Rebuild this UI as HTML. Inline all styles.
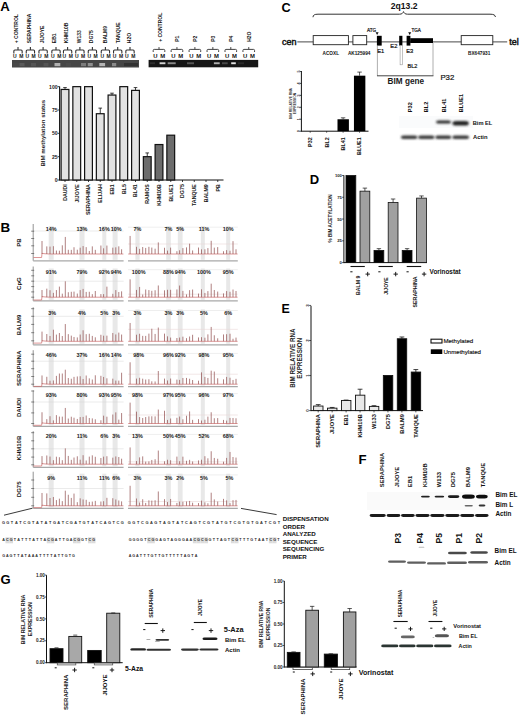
<!DOCTYPE html>
<html><head><meta charset="utf-8"><style>
html,body{margin:0;padding:0;background:#fff;}
svg{display:block;font-family:"Liberation Sans",sans-serif;}
</style></head><body>
<svg width="520" height="715" viewBox="0 0 520 715">
<rect width="520" height="715" fill="#fff"/>
<text x="0.2" y="10.6" font-size="13.2" font-weight="bold" text-anchor="start" fill="#000" >A</text>
<text x="281.5" y="12.1" font-size="12.7" font-weight="bold" text-anchor="start" fill="#000" >C</text>
<text x="0.6" y="232.3" font-size="13.4" font-weight="bold" text-anchor="start" fill="#000" >B</text>
<text x="309.8" y="183.8" font-size="13" font-weight="bold" text-anchor="start" fill="#000" >D</text>
<text x="281.6" y="313.4" font-size="12.4" font-weight="bold" text-anchor="start" fill="#000" >E</text>
<text x="358.6" y="463.6" font-size="13.2" font-weight="bold" text-anchor="start" fill="#000" >F</text>
<text x="0.4" y="583.9" font-size="13" font-weight="bold" text-anchor="start" fill="#000" >G</text>
<text transform="translate(17.9,43.2) rotate(-90)" font-size="5" font-weight="bold" text-anchor="start" fill="#111" >+ CONTROL</text>
<path d="M13.85,53.5 L13.85,51 Q13.85,50 14.85,50 L21.15,50 Q22.15,50 22.15,51 L22.15,53.5" stroke="#333" stroke-width="1.1" fill="none" />
<line x1="18" y1="47.1" x2="18" y2="50" stroke="#333" stroke-width="1.1" />
<text x="14.8" y="58" font-size="5" font-weight="bold" text-anchor="middle" fill="#111" >U</text>
<text x="21.3" y="58" font-size="5" font-weight="bold" text-anchor="middle" fill="#111" >M</text>
<text transform="translate(30.8,43.2) rotate(-90)" font-size="5" font-weight="bold" text-anchor="start" fill="#111" >SERAPHINA</text>
<path d="M26.25,53.5 L26.25,51 Q26.25,50 27.25,50 L33.55,50 Q34.55,50 34.55,51 L34.55,53.5" stroke="#333" stroke-width="1.1" fill="none" />
<line x1="30.4" y1="47.1" x2="30.4" y2="50" stroke="#333" stroke-width="1.1" />
<text x="27.2" y="58" font-size="5" font-weight="bold" text-anchor="middle" fill="#111" >U</text>
<text x="33.7" y="58" font-size="5" font-weight="bold" text-anchor="middle" fill="#111" >M</text>
<text transform="translate(43.6,43.2) rotate(-90)" font-size="5" font-weight="bold" text-anchor="start" fill="#111" >JIJOYE</text>
<path d="M38.95,53.5 L38.95,51 Q38.95,50 39.95,50 L46.25,50 Q47.25,50 47.25,51 L47.25,53.5" stroke="#333" stroke-width="1.1" fill="none" />
<line x1="43.1" y1="47.1" x2="43.1" y2="50" stroke="#333" stroke-width="1.1" />
<text x="39.9" y="58" font-size="5" font-weight="bold" text-anchor="middle" fill="#111" >U</text>
<text x="46.4" y="58" font-size="5" font-weight="bold" text-anchor="middle" fill="#111" >M</text>
<text transform="translate(56.3,43.2) rotate(-90)" font-size="5" font-weight="bold" text-anchor="start" fill="#111" >EB1</text>
<path d="M51.85,53.5 L51.85,51 Q51.85,50 52.85,50 L59.15,50 Q60.15,50 60.15,51 L60.15,53.5" stroke="#333" stroke-width="1.1" fill="none" />
<line x1="56" y1="47.1" x2="56" y2="50" stroke="#333" stroke-width="1.1" />
<text x="52.8" y="58" font-size="5" font-weight="bold" text-anchor="middle" fill="#111" >U</text>
<text x="59.3" y="58" font-size="5" font-weight="bold" text-anchor="middle" fill="#111" >M</text>
<text transform="translate(68.3,43.2) rotate(-90)" font-size="5" font-weight="bold" text-anchor="start" fill="#111" >KHM10B</text>
<path d="M63.45,53.5 L63.45,51 Q63.45,50 64.45,50 L70.75,50 Q71.75,50 71.75,51 L71.75,53.5" stroke="#333" stroke-width="1.1" fill="none" />
<line x1="67.6" y1="47.1" x2="67.6" y2="50" stroke="#333" stroke-width="1.1" />
<text x="64.4" y="58" font-size="5" font-weight="bold" text-anchor="middle" fill="#111" >U</text>
<text x="70.9" y="58" font-size="5" font-weight="bold" text-anchor="middle" fill="#111" >M</text>
<text transform="translate(81,43.2) rotate(-90)" font-size="5" font-weight="bold" text-anchor="start" fill="#111" >W133</text>
<path d="M75.75,53.5 L75.75,51 Q75.75,50 76.75,50 L83.05,50 Q84.05,50 84.05,51 L84.05,53.5" stroke="#333" stroke-width="1.1" fill="none" />
<line x1="79.9" y1="47.1" x2="79.9" y2="50" stroke="#333" stroke-width="1.1" />
<text x="76.7" y="58" font-size="5" font-weight="bold" text-anchor="middle" fill="#111" >U</text>
<text x="83.2" y="58" font-size="5" font-weight="bold" text-anchor="middle" fill="#111" >M</text>
<text transform="translate(93.3,43.2) rotate(-90)" font-size="5" font-weight="bold" text-anchor="start" fill="#111" >DG75</text>
<path d="M88.25,53.5 L88.25,51 Q88.25,50 89.25,50 L95.55,50 Q96.55,50 96.55,51 L96.55,53.5" stroke="#333" stroke-width="1.1" fill="none" />
<line x1="92.4" y1="47.1" x2="92.4" y2="50" stroke="#333" stroke-width="1.1" />
<text x="89.2" y="58" font-size="5" font-weight="bold" text-anchor="middle" fill="#111" >U</text>
<text x="95.7" y="58" font-size="5" font-weight="bold" text-anchor="middle" fill="#111" >M</text>
<text transform="translate(107.2,43.2) rotate(-90)" font-size="5" font-weight="bold" text-anchor="start" fill="#111" >BALM9</text>
<path d="M101.25,53.5 L101.25,51 Q101.25,50 102.25,50 L108.55,50 Q109.55,50 109.55,51 L109.55,53.5" stroke="#333" stroke-width="1.1" fill="none" />
<line x1="105.4" y1="47.1" x2="105.4" y2="50" stroke="#333" stroke-width="1.1" />
<text x="102.2" y="58" font-size="5" font-weight="bold" text-anchor="middle" fill="#111" >U</text>
<text x="108.7" y="58" font-size="5" font-weight="bold" text-anchor="middle" fill="#111" >M</text>
<text transform="translate(120.3,43.2) rotate(-90)" font-size="5" font-weight="bold" text-anchor="start" fill="#111" >TANQUE</text>
<path d="M113.55,53.5 L113.55,51 Q113.55,50 114.55,50 L120.85,50 Q121.85,50 121.85,51 L121.85,53.5" stroke="#333" stroke-width="1.1" fill="none" />
<line x1="117.7" y1="47.1" x2="117.7" y2="50" stroke="#333" stroke-width="1.1" />
<text x="114.5" y="58" font-size="5" font-weight="bold" text-anchor="middle" fill="#111" >U</text>
<text x="121" y="58" font-size="5" font-weight="bold" text-anchor="middle" fill="#111" >M</text>
<text transform="translate(131,43.2) rotate(-90)" font-size="5" font-weight="bold" text-anchor="start" fill="#111" >H2O</text>
<path d="M125.85,53.5 L125.85,51 Q125.85,50 126.85,50 L133.15,50 Q134.15,50 134.15,51 L134.15,53.5" stroke="#333" stroke-width="1.1" fill="none" />
<line x1="130" y1="47.1" x2="130" y2="50" stroke="#333" stroke-width="1.1" />
<text x="126.8" y="58" font-size="5" font-weight="bold" text-anchor="middle" fill="#111" >U</text>
<text x="133.3" y="58" font-size="5" font-weight="bold" text-anchor="middle" fill="#111" >M</text>
<text transform="translate(161.8,41.8) rotate(-90)" font-size="5" font-weight="bold" text-anchor="start" fill="#111" >+ CONTROL</text>
<path d="M153.2,52 L153.2,50.4 Q153.2,49.4 154.2,49.4 L163.8,49.4 Q164.8,49.4 164.8,50.4 L164.8,52" stroke="#444" stroke-width="1" fill="none" />
<line x1="159" y1="47.1" x2="159" y2="49.4" stroke="#444" stroke-width="1" />
<text x="155.4" y="58" font-size="5.9" font-weight="bold" text-anchor="middle" fill="#111" >U</text>
<text x="162.7" y="58" font-size="5.9" font-weight="bold" text-anchor="middle" fill="#111" >M</text>
<text transform="translate(179.05,41.8) rotate(-90)" font-size="5" font-weight="bold" text-anchor="start" fill="#111" >P1</text>
<path d="M171.15,52 L171.15,50.4 Q171.15,49.4 172.15,49.4 L181.75,49.4 Q182.75,49.4 182.75,50.4 L182.75,52" stroke="#444" stroke-width="1" fill="none" />
<line x1="176.95" y1="47.1" x2="176.95" y2="49.4" stroke="#444" stroke-width="1" />
<text x="173.35" y="58" font-size="5.9" font-weight="bold" text-anchor="middle" fill="#111" >U</text>
<text x="180.65" y="58" font-size="5.9" font-weight="bold" text-anchor="middle" fill="#111" >M</text>
<text transform="translate(197,41.8) rotate(-90)" font-size="5" font-weight="bold" text-anchor="start" fill="#111" >P2</text>
<path d="M189.1,52 L189.1,50.4 Q189.1,49.4 190.1,49.4 L199.7,49.4 Q200.7,49.4 200.7,50.4 L200.7,52" stroke="#444" stroke-width="1" fill="none" />
<line x1="194.9" y1="47.1" x2="194.9" y2="49.4" stroke="#444" stroke-width="1" />
<text x="191.3" y="58" font-size="5.9" font-weight="bold" text-anchor="middle" fill="#111" >U</text>
<text x="198.6" y="58" font-size="5.9" font-weight="bold" text-anchor="middle" fill="#111" >M</text>
<text transform="translate(214.95,41.8) rotate(-90)" font-size="5" font-weight="bold" text-anchor="start" fill="#111" >P3</text>
<path d="M207.05,52 L207.05,50.4 Q207.05,49.4 208.05,49.4 L217.65,49.4 Q218.65,49.4 218.65,50.4 L218.65,52" stroke="#444" stroke-width="1" fill="none" />
<line x1="212.85" y1="47.1" x2="212.85" y2="49.4" stroke="#444" stroke-width="1" />
<text x="209.25" y="58" font-size="5.9" font-weight="bold" text-anchor="middle" fill="#111" >U</text>
<text x="216.55" y="58" font-size="5.9" font-weight="bold" text-anchor="middle" fill="#111" >M</text>
<text transform="translate(232.9,41.8) rotate(-90)" font-size="5" font-weight="bold" text-anchor="start" fill="#111" >P4</text>
<path d="M225,52 L225,50.4 Q225,49.4 226,49.4 L235.6,49.4 Q236.6,49.4 236.6,50.4 L236.6,52" stroke="#444" stroke-width="1" fill="none" />
<line x1="230.8" y1="47.1" x2="230.8" y2="49.4" stroke="#444" stroke-width="1" />
<text x="227.2" y="58" font-size="5.9" font-weight="bold" text-anchor="middle" fill="#111" >U</text>
<text x="234.5" y="58" font-size="5.9" font-weight="bold" text-anchor="middle" fill="#111" >M</text>
<text transform="translate(250.85,41.8) rotate(-90)" font-size="5" font-weight="bold" text-anchor="start" fill="#111" >H2O</text>
<path d="M242.95,52 L242.95,50.4 Q242.95,49.4 243.95,49.4 L253.55,49.4 Q254.55,49.4 254.55,50.4 L254.55,52" stroke="#444" stroke-width="1" fill="none" />
<line x1="248.75" y1="47.1" x2="248.75" y2="49.4" stroke="#444" stroke-width="1" />
<text x="245.15" y="58" font-size="5.9" font-weight="bold" text-anchor="middle" fill="#111" >U</text>
<text x="252.45" y="58" font-size="5.9" font-weight="bold" text-anchor="middle" fill="#111" >M</text>
<defs><filter id="bl" x="-20%" y="-50%" width="140%" height="200%"><feGaussianBlur stdDeviation="0.7"/></filter><filter id="bl2" x="-20%" y="-80%" width="140%" height="260%"><feGaussianBlur stdDeviation="0.45"/></filter><filter id="bl3" x="-20%" y="-80%" width="140%" height="260%"><feGaussianBlur stdDeviation="1.0"/></filter></defs>
<rect x="12" y="60" width="127" height="7.5" fill="#464646" stroke="none" stroke-width="1" />
<g filter="url(#bl)">
<rect x="13" y="63" width="6" height="3.2" fill="#4a4a4a" stroke="none" stroke-width="1" />
<rect x="19.5" y="63" width="5" height="3.2" fill="#5a5a5a" stroke="none" stroke-width="1" />
<rect x="31" y="63" width="5" height="3.2" fill="#545454" stroke="none" stroke-width="1" />
<rect x="43.5" y="63" width="5" height="3.2" fill="#555" stroke="none" stroke-width="1" />
<rect x="54.5" y="63" width="5.8" height="3.2" fill="#b0b0b0" stroke="none" stroke-width="1" />
<rect x="66" y="63" width="5" height="3.2" fill="#4c4c4c" stroke="none" stroke-width="1" />
<rect x="81" y="63" width="5" height="3.2" fill="#7c7c7c" stroke="none" stroke-width="1" />
<rect x="87.8" y="63" width="5" height="3.2" fill="#909090" stroke="none" stroke-width="1" />
<rect x="99.3" y="63" width="5.8" height="3.2" fill="#b4b4b4" stroke="none" stroke-width="1" />
<rect x="112" y="63" width="4.2" height="3.2" fill="#8a8a8a" stroke="none" stroke-width="1" />
<rect x="124" y="63" width="14" height="3.2" fill="#333" stroke="none" stroke-width="1" />
</g>
<rect x="148.6" y="59.9" width="109.6" height="7.4" fill="#161616" stroke="none" stroke-width="1" />
<g filter="url(#bl2)">
<rect x="150" y="62.3" width="5" height="1.9" fill="#2e2e2e" stroke="none" stroke-width="1" />
<rect x="159.6" y="62.3" width="5.8" height="1.9" fill="#d4d4d4" stroke="none" stroke-width="1" />
<rect x="167.7" y="62.3" width="8" height="1.9" fill="#8a8a8a" stroke="none" stroke-width="1" />
<rect x="187" y="62.3" width="7" height="1.9" fill="#555" stroke="none" stroke-width="1" />
<rect x="213.9" y="62.3" width="5.8" height="1.9" fill="#b0b0b0" stroke="none" stroke-width="1" />
<rect x="222" y="62.3" width="5.7" height="1.9" fill="#4a4a4a" stroke="none" stroke-width="1" />
<rect x="231.2" y="62.3" width="4.6" height="1.9" fill="#e4e4e4" stroke="none" stroke-width="1" />
<rect x="238" y="62.3" width="6" height="1.9" fill="#2a2a2a" stroke="none" stroke-width="1" />
</g>
<line x1="59.6" y1="86.6" x2="59.6" y2="180.5" stroke="#111" stroke-width="1.1" />
<line x1="59.6" y1="180" x2="223.5" y2="180" stroke="#111" stroke-width="1.1" />
<line x1="57.6" y1="180" x2="59.6" y2="180" stroke="#111" stroke-width="0.8" />
<text x="57.6" y="181.9" font-size="5.1" font-weight="bold" text-anchor="end" fill="#1a1a1a" >0</text>
<line x1="57.6" y1="156.66" x2="59.6" y2="156.66" stroke="#111" stroke-width="0.8" />
<text x="57.6" y="158.56" font-size="5.1" font-weight="bold" text-anchor="end" fill="#1a1a1a" >25</text>
<line x1="57.6" y1="133.32" x2="59.6" y2="133.32" stroke="#111" stroke-width="0.8" />
<text x="57.6" y="135.22" font-size="5.1" font-weight="bold" text-anchor="end" fill="#1a1a1a" >50</text>
<line x1="57.6" y1="109.99" x2="59.6" y2="109.99" stroke="#111" stroke-width="0.8" />
<text x="57.6" y="111.89" font-size="5.1" font-weight="bold" text-anchor="end" fill="#1a1a1a" >75</text>
<line x1="57.6" y1="86.65" x2="59.6" y2="86.65" stroke="#111" stroke-width="0.8" />
<text x="57.6" y="88.55" font-size="5.1" font-weight="bold" text-anchor="end" fill="#1a1a1a" >100</text>
<text transform="translate(45.4,133.2) rotate(-90)" font-size="6.1" font-weight="bold" text-anchor="middle" fill="#222" >BIM methylation status</text>
<rect x="61.1" y="89.45" width="7.8" height="90.55" fill="#e2e2e2" stroke="#111" stroke-width="1.2" />
<line x1="65" y1="89.45" x2="65" y2="87.58" stroke="#111" stroke-width="0.8" />
<line x1="63.2" y1="87.58" x2="66.8" y2="87.58" stroke="#111" stroke-width="0.8" />
<line x1="65" y1="180" x2="65" y2="182" stroke="#111" stroke-width="0.8" />
<text transform="translate(66.89,184.2) rotate(-90)" font-size="5.25" font-weight="bold" text-anchor="end" fill="#111" >DAUDI</text>
<rect x="72.85" y="86.65" width="7.8" height="93.35" fill="#e2e2e2" stroke="#111" stroke-width="1.2" />
<line x1="76.75" y1="180" x2="76.75" y2="182" stroke="#111" stroke-width="0.8" />
<text transform="translate(78.64,184.2) rotate(-90)" font-size="5.25" font-weight="bold" text-anchor="end" fill="#111" >JIJOYE</text>
<rect x="84.6" y="86.65" width="7.8" height="93.35" fill="#e2e2e2" stroke="#111" stroke-width="1.2" />
<line x1="88.5" y1="180" x2="88.5" y2="182" stroke="#111" stroke-width="0.8" />
<text transform="translate(90.39,184.2) rotate(-90)" font-size="5.25" font-weight="bold" text-anchor="end" fill="#111" >SERAPHINA</text>
<rect x="96.35" y="113.72" width="7.8" height="66.28" fill="#e2e2e2" stroke="#111" stroke-width="1.2" />
<line x1="100.25" y1="113.72" x2="100.25" y2="108.12" stroke="#111" stroke-width="0.8" />
<line x1="98.45" y1="108.12" x2="102.05" y2="108.12" stroke="#111" stroke-width="0.8" />
<line x1="100.25" y1="180" x2="100.25" y2="182" stroke="#111" stroke-width="0.8" />
<text transform="translate(102.14,184.2) rotate(-90)" font-size="5.25" font-weight="bold" text-anchor="end" fill="#111" >ELIJAH</text>
<rect x="108.1" y="95.05" width="7.8" height="84.95" fill="#e2e2e2" stroke="#111" stroke-width="1.2" />
<line x1="112" y1="95.05" x2="112" y2="93.18" stroke="#111" stroke-width="0.8" />
<line x1="110.2" y1="93.18" x2="113.8" y2="93.18" stroke="#111" stroke-width="0.8" />
<line x1="112" y1="180" x2="112" y2="182" stroke="#111" stroke-width="0.8" />
<text transform="translate(113.89,184.2) rotate(-90)" font-size="5.25" font-weight="bold" text-anchor="end" fill="#111" >EB1</text>
<rect x="119.85" y="86.65" width="7.8" height="93.35" fill="#e2e2e2" stroke="#111" stroke-width="1.2" />
<line x1="123.75" y1="180" x2="123.75" y2="182" stroke="#111" stroke-width="0.8" />
<text transform="translate(125.64,184.2) rotate(-90)" font-size="5.25" font-weight="bold" text-anchor="end" fill="#111" >BL5</text>
<rect x="131.6" y="90.38" width="7.8" height="89.62" fill="#e2e2e2" stroke="#111" stroke-width="1.2" />
<line x1="135.5" y1="90.38" x2="135.5" y2="87.58" stroke="#111" stroke-width="0.8" />
<line x1="133.7" y1="87.58" x2="137.3" y2="87.58" stroke="#111" stroke-width="0.8" />
<line x1="135.5" y1="180" x2="135.5" y2="182" stroke="#111" stroke-width="0.8" />
<text transform="translate(137.39,184.2) rotate(-90)" font-size="5.25" font-weight="bold" text-anchor="end" fill="#111" >BL41</text>
<rect x="143.35" y="156.66" width="7.8" height="23.34" fill="#6c6c6c" stroke="#111" stroke-width="1.2" />
<line x1="147.25" y1="156.66" x2="147.25" y2="152.93" stroke="#111" stroke-width="0.8" />
<line x1="145.45" y1="152.93" x2="149.05" y2="152.93" stroke="#111" stroke-width="0.8" />
<line x1="147.25" y1="180" x2="147.25" y2="182" stroke="#111" stroke-width="0.8" />
<text transform="translate(149.14,184.2) rotate(-90)" font-size="5.25" font-weight="bold" text-anchor="end" fill="#111" >RAMOS</text>
<rect x="155.1" y="144.53" width="7.8" height="35.47" fill="#6c6c6c" stroke="#111" stroke-width="1.2" />
<line x1="159" y1="180" x2="159" y2="182" stroke="#111" stroke-width="0.8" />
<text transform="translate(160.89,184.2) rotate(-90)" font-size="5.25" font-weight="bold" text-anchor="end" fill="#111" >KHM10B</text>
<rect x="166.85" y="135.19" width="7.8" height="44.81" fill="#6c6c6c" stroke="#111" stroke-width="1.2" />
<line x1="170.75" y1="180" x2="170.75" y2="182" stroke="#111" stroke-width="0.8" />
<text transform="translate(172.64,184.2) rotate(-90)" font-size="5.25" font-weight="bold" text-anchor="end" fill="#111" >BLUE1</text>
<line x1="182.5" y1="180" x2="182.5" y2="182" stroke="#111" stroke-width="0.8" />
<text transform="translate(184.39,184.2) rotate(-90)" font-size="5.25" font-weight="bold" text-anchor="end" fill="#111" >DG75</text>
<line x1="194.25" y1="180" x2="194.25" y2="182" stroke="#111" stroke-width="0.8" />
<text transform="translate(196.14,184.2) rotate(-90)" font-size="5.25" font-weight="bold" text-anchor="end" fill="#111" >TANQUE</text>
<line x1="206" y1="180" x2="206" y2="182" stroke="#111" stroke-width="0.8" />
<text transform="translate(207.89,184.2) rotate(-90)" font-size="5.25" font-weight="bold" text-anchor="end" fill="#111" >BALM9</text>
<line x1="217.75" y1="180" x2="217.75" y2="182" stroke="#111" stroke-width="0.8" />
<text transform="translate(219.64,184.2) rotate(-90)" font-size="5.25" font-weight="bold" text-anchor="end" fill="#111" >PB</text>
<g>
<rect x="48.7" y="226" width="5" height="33.8" fill="#e8e8e8" stroke="none" stroke-width="1" />
<rect x="79.5" y="226" width="5" height="33.8" fill="#e8e8e8" stroke="none" stroke-width="1" />
<rect x="102.3" y="226" width="4" height="33.8" fill="#e8e8e8" stroke="none" stroke-width="1" />
<rect x="112.6" y="226" width="5" height="33.8" fill="#e8e8e8" stroke="none" stroke-width="1" />
<rect x="135.4" y="226" width="4.2" height="33.8" fill="#e8e8e8" stroke="none" stroke-width="1" />
<rect x="166.2" y="226" width="4.6" height="33.8" fill="#e8e8e8" stroke="none" stroke-width="1" />
<rect x="177.8" y="226" width="4.8" height="33.8" fill="#e8e8e8" stroke="none" stroke-width="1" />
<rect x="200.8" y="226" width="4" height="33.8" fill="#e8e8e8" stroke="none" stroke-width="1" />
<rect x="226.2" y="226" width="4" height="33.8" fill="#e8e8e8" stroke="none" stroke-width="1" />
<line x1="33" y1="231" x2="123.6" y2="231" stroke="#d6d6d6" stroke-width="0.5" />
<line x1="128" y1="227.2" x2="237.8" y2="227.2" stroke="#dddddd" stroke-width="0.5" />
<line x1="128" y1="244" x2="237.8" y2="244" stroke="#ead6d6" stroke-width="0.6" />
<line x1="33.2" y1="224" x2="33.2" y2="260.8" stroke="#777" stroke-width="0.8" />
<line x1="31.2" y1="231.2" x2="34.2" y2="231.2" stroke="#555" stroke-width="0.7" />
<line x1="31.2" y1="238.5" x2="34.2" y2="238.5" stroke="#555" stroke-width="0.7" />
<line x1="31.2" y1="245.8" x2="34.2" y2="245.8" stroke="#555" stroke-width="0.7" />
<line x1="31.2" y1="253.5" x2="34.2" y2="253.5" stroke="#555" stroke-width="0.7" />
<line x1="33.2" y1="260.8" x2="123.6" y2="260.8" stroke="#a8a8a8" stroke-width="1.2" />
<line x1="128" y1="260.8" x2="237.8" y2="260.8" stroke="#a8a8a8" stroke-width="1.2" />
<path d="M33.4,257.5 L41.6,257.5 L42.0,253.4 Q44,253.8 50,254 L123.4,254" stroke="#cf6a6a" stroke-width="0.7" fill="none" />
<path d="M128.2,254 L237.6,254" stroke="#cf6a6a" stroke-width="0.7" fill="none" />
<path d="M42,254 L42,241 M46.8,254 L46.8,246.38 M50,254 L50,246.61 M53.4,254 L53.4,246.2 M56.4,254 L56.4,250.52 M59.4,254 L59.4,250.71 M62.3,254 L62.3,245.32 M65.3,254 L65.3,236.93 M68.3,254 L68.3,249.78 M71.3,254 L71.3,249.87 M74,254 L74,247.24 M77.3,254 L77.3,249.73 M80.2,254 L80.2,247.67 M83.1,254 L83.1,246.09 M86.2,254 L86.2,247.11 M89.3,254 L89.3,250.97 M92.3,254 L92.3,246.36 M95.3,254 L95.3,249.84 M100.9,254 L100.9,245.52 M103.6,254 L103.6,248.31 M106.9,254 L106.9,245.59 M112.8,254 L112.8,247.68 M115.8,254 L115.8,247.35 M118.8,254 L118.8,246.35 M121.6,254 L121.6,249.26 M130.1,254 L130.1,235.94 M136.5,254 L136.5,246.8 M139.6,254 L139.6,248.84 M142.7,254 L142.7,247.02 M145.7,254 L145.7,247.92 M148.9,254 L148.9,246.84 M151.8,254 L151.8,247.57 M155.1,254 L155.1,248.68 M158.3,254 L158.3,242.41 M164.5,254 L164.5,247.78 M167.5,254 L167.5,250.59 M170.6,254 L170.6,247.62 M176.9,254 L176.9,251.22 M179.6,254 L179.6,250.29 M182.9,254 L182.9,248.08 M186.5,254 L186.5,247.38 M189.6,254 L189.6,243.66 M192.6,254 L192.6,250.44 M198.5,254 L198.5,247.54 M201.5,254 L201.5,249.36 M204.9,254 L204.9,249.3 M207.9,254 L207.9,248.1 M211.2,254 L211.2,240.82 M214.3,254 L214.3,247.65 M217.7,254 L217.7,247.11 M223.5,254 L223.5,251.24 M226.6,254 L226.6,250.13 M230,254 L230,250.73 M233,254 L233,241.16 M236,254 L236,249.29 " stroke="#955555" stroke-width="0.75" fill="none" />
<text x="51.2" y="231.45" font-size="5.45" font-weight="bold" text-anchor="middle" fill="#1a1a1a" >14%</text>
<text x="82" y="231.45" font-size="5.45" font-weight="bold" text-anchor="middle" fill="#1a1a1a" >13%</text>
<text x="104.3" y="231.45" font-size="5.45" font-weight="bold" text-anchor="middle" fill="#1a1a1a" >16%</text>
<text x="116.1" y="231.45" font-size="5.45" font-weight="bold" text-anchor="middle" fill="#1a1a1a" >10%</text>
<text x="137.5" y="231.45" font-size="5.45" font-weight="bold" text-anchor="middle" fill="#1a1a1a" >7%</text>
<text x="168.5" y="231.45" font-size="5.45" font-weight="bold" text-anchor="middle" fill="#1a1a1a" >7%</text>
<text x="180.2" y="231.45" font-size="5.45" font-weight="bold" text-anchor="middle" fill="#1a1a1a" >5%</text>
<text x="204" y="231.45" font-size="5.45" font-weight="bold" text-anchor="middle" fill="#1a1a1a" >11%</text>
<text x="228.2" y="231.45" font-size="5.45" font-weight="bold" text-anchor="middle" fill="#1a1a1a" >10%</text>
<text transform="translate(20.76,242.5) rotate(-90)" font-size="6" font-weight="bold" text-anchor="middle" fill="#111" >PB</text>
<rect x="48.7" y="268.5" width="5" height="31.3" fill="#e8e8e8" stroke="none" stroke-width="1" />
<rect x="79.5" y="268.5" width="5" height="31.3" fill="#e8e8e8" stroke="none" stroke-width="1" />
<rect x="102.3" y="268.5" width="4" height="31.3" fill="#e8e8e8" stroke="none" stroke-width="1" />
<rect x="112.6" y="268.5" width="5" height="31.3" fill="#e8e8e8" stroke="none" stroke-width="1" />
<rect x="135.4" y="268.5" width="4.2" height="31.3" fill="#e8e8e8" stroke="none" stroke-width="1" />
<rect x="166.2" y="268.5" width="4.6" height="31.3" fill="#e8e8e8" stroke="none" stroke-width="1" />
<rect x="177.8" y="268.5" width="4.8" height="31.3" fill="#e8e8e8" stroke="none" stroke-width="1" />
<rect x="200.8" y="268.5" width="4" height="31.3" fill="#e8e8e8" stroke="none" stroke-width="1" />
<rect x="226.2" y="268.5" width="4" height="31.3" fill="#e8e8e8" stroke="none" stroke-width="1" />
<line x1="33" y1="281.2" x2="123.6" y2="281.2" stroke="#d6d6d6" stroke-width="0.5" />
<line x1="128" y1="269.7" x2="237.8" y2="269.7" stroke="#dddddd" stroke-width="0.5" />
<line x1="128" y1="294.2" x2="237.8" y2="294.2" stroke="#ead6d6" stroke-width="0.6" />
<line x1="33.2" y1="266.5" x2="33.2" y2="300.8" stroke="#777" stroke-width="0.8" />
<line x1="31.2" y1="270.3" x2="34.2" y2="270.3" stroke="#555" stroke-width="0.7" />
<line x1="31.2" y1="275.8" x2="34.2" y2="275.8" stroke="#555" stroke-width="0.7" />
<line x1="31.2" y1="281.2" x2="34.2" y2="281.2" stroke="#555" stroke-width="0.7" />
<line x1="31.2" y1="286.6" x2="34.2" y2="286.6" stroke="#555" stroke-width="0.7" />
<line x1="31.2" y1="291.9" x2="34.2" y2="291.9" stroke="#555" stroke-width="0.7" />
<line x1="31.2" y1="297.2" x2="34.2" y2="297.2" stroke="#555" stroke-width="0.7" />
<line x1="33.2" y1="300.8" x2="123.6" y2="300.8" stroke="#a8a8a8" stroke-width="1.2" />
<line x1="128" y1="300.8" x2="237.8" y2="300.8" stroke="#a8a8a8" stroke-width="1.2" />
<path d="M33.4,300 L41.6,300 L42.0,296.6 Q44,297 50,297.2 L123.4,297.2" stroke="#cf6a6a" stroke-width="0.7" fill="none" />
<path d="M128.2,297.2 L237.6,297.2" stroke="#cf6a6a" stroke-width="0.7" fill="none" />
<path d="M42,297.2 L42,290.03 M46.8,297.2 L46.8,288.66 M50,297.2 L50,290.22 M53.4,297.2 L53.4,292.87 M56.4,297.2 L56.4,290.05 M59.4,297.2 L59.4,286.62 M62.3,297.2 L62.3,293.67 M65.3,297.2 L65.3,281.31 M68.3,297.2 L68.3,292.24 M71.3,297.2 L71.3,291.78 M74,297.2 L74,291.62 M77.3,297.2 L77.3,293.54 M80.2,297.2 L80.2,290.12 M83.1,297.2 L83.1,288.91 M86.2,297.2 L86.2,291.92 M89.3,297.2 L89.3,291.77 M92.3,297.2 L92.3,294.16 M95.3,297.2 L95.3,290.99 M100.9,297.2 L100.9,294.07 M103.6,297.2 L103.6,294.14 M106.9,297.2 L106.9,286.66 M112.8,297.2 L112.8,293.81 M115.8,297.2 L115.8,290.09 M118.8,297.2 L118.8,292.02 M121.6,297.2 L121.6,291.35 M130.1,297.2 L130.1,279.33 M136.5,297.2 L136.5,289.92 M139.6,297.2 L139.6,286.95 M142.7,297.2 L142.7,294.52 M145.7,297.2 L145.7,289.5 M148.9,297.2 L148.9,290.09 M151.8,297.2 L151.8,290.82 M155.1,297.2 L155.1,290.25 M158.3,297.2 L158.3,285.48 M164.5,297.2 L164.5,290.34 M167.5,297.2 L167.5,289.79 M170.6,297.2 L170.6,289.81 M176.9,297.2 L176.9,289.44 M179.6,297.2 L179.6,285.55 M182.9,297.2 L182.9,290.91 M186.5,297.2 L186.5,294.38 M189.6,297.2 L189.6,290.17 M192.6,297.2 L192.6,289.55 M198.5,297.2 L198.5,293.58 M201.5,297.2 L201.5,289.3 M204.9,297.2 L204.9,292.94 M207.9,297.2 L207.9,291.11 M211.2,297.2 L211.2,283.67 M214.3,297.2 L214.3,289.99 M217.7,297.2 L217.7,291.57 M223.5,297.2 L223.5,293.39 M226.6,297.2 L226.6,291.07 M230,297.2 L230,291.76 M233,297.2 L233,289.55 M236,297.2 L236,290.97 " stroke="#955555" stroke-width="0.75" fill="none" />
<text x="51.2" y="273.65" font-size="5.45" font-weight="bold" text-anchor="middle" fill="#1a1a1a" >91%</text>
<text x="82" y="273.65" font-size="5.45" font-weight="bold" text-anchor="middle" fill="#1a1a1a" >79%</text>
<text x="104.3" y="273.65" font-size="5.45" font-weight="bold" text-anchor="middle" fill="#1a1a1a" >92%</text>
<text x="116.1" y="273.65" font-size="5.45" font-weight="bold" text-anchor="middle" fill="#1a1a1a" >94%</text>
<text x="138.7" y="273.65" font-size="5.45" font-weight="bold" text-anchor="middle" fill="#1a1a1a" >100%</text>
<text x="168.5" y="273.65" font-size="5.45" font-weight="bold" text-anchor="middle" fill="#1a1a1a" >88%</text>
<text x="180.2" y="273.65" font-size="5.45" font-weight="bold" text-anchor="middle" fill="#1a1a1a" >94%</text>
<text x="204" y="273.65" font-size="5.45" font-weight="bold" text-anchor="middle" fill="#1a1a1a" >100%</text>
<text x="228.2" y="273.65" font-size="5.45" font-weight="bold" text-anchor="middle" fill="#1a1a1a" >95%</text>
<text transform="translate(20.76,283.6) rotate(-90)" font-size="6" font-weight="bold" text-anchor="middle" fill="#111" >CpG</text>
<rect x="48.7" y="309.3" width="5" height="34.5" fill="#e8e8e8" stroke="none" stroke-width="1" />
<rect x="79.5" y="309.3" width="5" height="34.5" fill="#e8e8e8" stroke="none" stroke-width="1" />
<rect x="102.3" y="309.3" width="4" height="34.5" fill="#e8e8e8" stroke="none" stroke-width="1" />
<rect x="112.6" y="309.3" width="5" height="34.5" fill="#e8e8e8" stroke="none" stroke-width="1" />
<rect x="135.4" y="309.3" width="4.2" height="34.5" fill="#e8e8e8" stroke="none" stroke-width="1" />
<rect x="166.2" y="309.3" width="4.6" height="34.5" fill="#e8e8e8" stroke="none" stroke-width="1" />
<rect x="177.8" y="309.3" width="4.8" height="34.5" fill="#e8e8e8" stroke="none" stroke-width="1" />
<rect x="200.8" y="309.3" width="4" height="34.5" fill="#e8e8e8" stroke="none" stroke-width="1" />
<rect x="226.2" y="309.3" width="4" height="34.5" fill="#e8e8e8" stroke="none" stroke-width="1" />
<line x1="33" y1="316.3" x2="123.6" y2="316.3" stroke="#d6d6d6" stroke-width="0.5" />
<line x1="128" y1="310.5" x2="237.8" y2="310.5" stroke="#dddddd" stroke-width="0.5" />
<line x1="128" y1="329.3" x2="237.8" y2="329.3" stroke="#ead6d6" stroke-width="0.6" />
<line x1="33.2" y1="307.3" x2="33.2" y2="344.8" stroke="#777" stroke-width="0.8" />
<line x1="31.2" y1="308.7" x2="34.2" y2="308.7" stroke="#555" stroke-width="0.7" />
<line x1="31.2" y1="316.3" x2="34.2" y2="316.3" stroke="#555" stroke-width="0.7" />
<line x1="31.2" y1="324.4" x2="34.2" y2="324.4" stroke="#555" stroke-width="0.7" />
<line x1="31.2" y1="332.7" x2="34.2" y2="332.7" stroke="#555" stroke-width="0.7" />
<line x1="31.2" y1="340.8" x2="34.2" y2="340.8" stroke="#555" stroke-width="0.7" />
<line x1="33.2" y1="344.8" x2="123.6" y2="344.8" stroke="#a8a8a8" stroke-width="1.2" />
<line x1="128" y1="344.8" x2="237.8" y2="344.8" stroke="#a8a8a8" stroke-width="1.2" />
<path d="M33.4,343.1 L41.6,343.1 L42.0,340.7 Q44,341.1 50,341.3 L123.4,341.3" stroke="#cf6a6a" stroke-width="0.7" fill="none" />
<path d="M128.2,341.3 L237.6,341.3" stroke="#cf6a6a" stroke-width="0.7" fill="none" />
<path d="M42,341.3 L42,331.6 M46.8,341.3 L46.8,334.02 M50,341.3 L50,335.99 M53.4,341.3 L53.4,329.71 M56.4,341.3 L56.4,334.58 M59.4,341.3 L59.4,333.02 M62.3,341.3 L62.3,336.04 M65.3,341.3 L65.3,324.06 M68.3,341.3 L68.3,334.16 M71.3,341.3 L71.3,335.65 M74,341.3 L74,336.97 M77.3,341.3 L77.3,337.43 M80.2,341.3 L80.2,334.52 M83.1,341.3 L83.1,330.3 M86.2,341.3 L86.2,334.17 M89.3,341.3 L89.3,333.81 M92.3,341.3 L92.3,335.91 M95.3,341.3 L95.3,337.3 M100.9,341.3 L100.9,334.77 M103.6,341.3 L103.6,335.7 M106.9,341.3 L106.9,335.66 M112.8,341.3 L112.8,332.97 M115.8,341.3 L115.8,334.46 M118.8,341.3 L118.8,332.61 M121.6,341.3 L121.6,334.55 M130.1,341.3 L130.1,322.96 M136.5,341.3 L136.5,334.71 M139.6,341.3 L139.6,333.77 M142.7,341.3 L142.7,335.86 M145.7,341.3 L145.7,335.9 M148.9,341.3 L148.9,333.64 M151.8,341.3 L151.8,328.73 M155.1,341.3 L155.1,333.94 M158.3,341.3 L158.3,327.56 M164.5,341.3 L164.5,333.63 M167.5,341.3 L167.5,336.34 M170.6,341.3 L170.6,337.59 M176.9,341.3 L176.9,338.01 M179.6,341.3 L179.6,337.54 M182.9,341.3 L182.9,336.66 M186.5,341.3 L186.5,338.15 M189.6,341.3 L189.6,336.5 M192.6,341.3 L192.6,334.79 M198.5,341.3 L198.5,337.46 M201.5,341.3 L201.5,337.17 M204.9,341.3 L204.9,337.69 M207.9,341.3 L207.9,334.36 M211.2,341.3 L211.2,326.93 M214.3,341.3 L214.3,335.27 M217.7,341.3 L217.7,338.29 M223.5,341.3 L223.5,334.45 M226.6,341.3 L226.6,334.19 M230,341.3 L230,333.74 M233,341.3 L233,338.76 M236,341.3 L236,337.6 " stroke="#955555" stroke-width="0.75" fill="none" />
<text x="52.2" y="315.05" font-size="5.45" font-weight="bold" text-anchor="middle" fill="#1a1a1a" >3%</text>
<text x="82" y="315.05" font-size="5.45" font-weight="bold" text-anchor="middle" fill="#1a1a1a" >4%</text>
<text x="104.3" y="315.05" font-size="5.45" font-weight="bold" text-anchor="middle" fill="#1a1a1a" >5%</text>
<text x="116.1" y="315.05" font-size="5.45" font-weight="bold" text-anchor="middle" fill="#1a1a1a" >3%</text>
<text x="137.5" y="315.05" font-size="5.45" font-weight="bold" text-anchor="middle" fill="#1a1a1a" >3%</text>
<text x="168.5" y="315.05" font-size="5.45" font-weight="bold" text-anchor="middle" fill="#1a1a1a" >3%</text>
<text x="180.2" y="315.05" font-size="5.45" font-weight="bold" text-anchor="middle" fill="#1a1a1a" >3%</text>
<text x="204" y="315.05" font-size="5.45" font-weight="bold" text-anchor="middle" fill="#1a1a1a" >5%</text>
<text x="228.2" y="315.05" font-size="5.45" font-weight="bold" text-anchor="middle" fill="#1a1a1a" >6%</text>
<text transform="translate(20.76,324.9) rotate(-90)" font-size="6" font-weight="bold" text-anchor="middle" fill="#111" >BALM9</text>
<rect x="48.7" y="352.2" width="5" height="33.4" fill="#e8e8e8" stroke="none" stroke-width="1" />
<rect x="79.5" y="352.2" width="5" height="33.4" fill="#e8e8e8" stroke="none" stroke-width="1" />
<rect x="102.3" y="352.2" width="4" height="33.4" fill="#e8e8e8" stroke="none" stroke-width="1" />
<rect x="112.6" y="352.2" width="5" height="33.4" fill="#e8e8e8" stroke="none" stroke-width="1" />
<rect x="135.4" y="352.2" width="4.2" height="33.4" fill="#e8e8e8" stroke="none" stroke-width="1" />
<rect x="166.2" y="352.2" width="4.6" height="33.4" fill="#e8e8e8" stroke="none" stroke-width="1" />
<rect x="177.8" y="352.2" width="4.8" height="33.4" fill="#e8e8e8" stroke="none" stroke-width="1" />
<rect x="200.8" y="352.2" width="4" height="33.4" fill="#e8e8e8" stroke="none" stroke-width="1" />
<rect x="226.2" y="352.2" width="4" height="33.4" fill="#e8e8e8" stroke="none" stroke-width="1" />
<line x1="33" y1="361.2" x2="123.6" y2="361.2" stroke="#d6d6d6" stroke-width="0.5" />
<line x1="128" y1="353.4" x2="237.8" y2="353.4" stroke="#dddddd" stroke-width="0.5" />
<line x1="128" y1="374.2" x2="237.8" y2="374.2" stroke="#ead6d6" stroke-width="0.6" />
<line x1="33.2" y1="350.2" x2="33.2" y2="386.6" stroke="#777" stroke-width="0.8" />
<line x1="31.2" y1="354.2" x2="34.2" y2="354.2" stroke="#555" stroke-width="0.7" />
<line x1="31.2" y1="361.2" x2="34.2" y2="361.2" stroke="#555" stroke-width="0.7" />
<line x1="31.2" y1="368.7" x2="34.2" y2="368.7" stroke="#555" stroke-width="0.7" />
<line x1="31.2" y1="376.5" x2="34.2" y2="376.5" stroke="#555" stroke-width="0.7" />
<line x1="31.2" y1="384.2" x2="34.2" y2="384.2" stroke="#555" stroke-width="0.7" />
<line x1="33.2" y1="386.6" x2="123.6" y2="386.6" stroke="#a8a8a8" stroke-width="1.2" />
<line x1="128" y1="386.6" x2="237.8" y2="386.6" stroke="#a8a8a8" stroke-width="1.2" />
<path d="M33.4,386.4 L41.6,386.4 L42.0,383.6 Q44,384 50,384.2 L123.4,384.2" stroke="#cf6a6a" stroke-width="0.7" fill="none" />
<path d="M128.2,384.2 L237.6,384.2" stroke="#cf6a6a" stroke-width="0.7" fill="none" />
<path d="M42,384.2 L42,375.46 M46.8,384.2 L46.8,376.79 M50,384.2 L50,380.73 M53.4,384.2 L53.4,380.47 M56.4,384.2 L56.4,375.86 M59.4,384.2 L59.4,373.53 M62.3,384.2 L62.3,373.52 M65.3,384.2 L65.3,369.69 M68.3,384.2 L68.3,378.06 M71.3,384.2 L71.3,378.74 M74,384.2 L74,376.86 M77.3,384.2 L77.3,376.48 M80.2,384.2 L80.2,376.24 M83.1,384.2 L83.1,378.99 M86.2,384.2 L86.2,375.52 M89.3,384.2 L89.3,378.35 M92.3,384.2 L92.3,379.51 M95.3,384.2 L95.3,375.28 M100.9,384.2 L100.9,375.83 M103.6,384.2 L103.6,376.95 M106.9,384.2 L106.9,378.31 M112.8,384.2 L112.8,378.68 M115.8,384.2 L115.8,380.6 M118.8,384.2 L118.8,380.62 M121.6,384.2 L121.6,372.74 M130.1,384.2 L130.1,362.28 M136.5,384.2 L136.5,378.6 M139.6,384.2 L139.6,377.8 M142.7,384.2 L142.7,378.68 M145.7,384.2 L145.7,379.53 M148.9,384.2 L148.9,379.26 M151.8,384.2 L151.8,381.34 M155.1,384.2 L155.1,381.46 M158.3,384.2 L158.3,371.03 M164.5,384.2 L164.5,378.59 M167.5,384.2 L167.5,380.44 M170.6,384.2 L170.6,378.52 M176.9,384.2 L176.9,379.61 M179.6,384.2 L179.6,379.88 M182.9,384.2 L182.9,377.98 M186.5,384.2 L186.5,377.93 M189.6,384.2 L189.6,378.75 M192.6,384.2 L192.6,380 M198.5,384.2 L198.5,380.7 M201.5,384.2 L201.5,372.36 M204.9,384.2 L204.9,376.91 M207.9,384.2 L207.9,377.95 M211.2,384.2 L211.2,370.68 M214.3,384.2 L214.3,371.56 M217.7,384.2 L217.7,378.25 M223.5,384.2 L223.5,379.34 M226.6,384.2 L226.6,376.92 M230,384.2 L230,377.72 M233,384.2 L233,379.95 M236,384.2 L236,378.83 " stroke="#955555" stroke-width="0.75" fill="none" />
<text x="51.2" y="356.75" font-size="5.45" font-weight="bold" text-anchor="middle" fill="#1a1a1a" >46%</text>
<text x="82" y="356.75" font-size="5.45" font-weight="bold" text-anchor="middle" fill="#1a1a1a" >37%</text>
<text x="104.3" y="356.75" font-size="5.45" font-weight="bold" text-anchor="middle" fill="#1a1a1a" >16%</text>
<text x="116.1" y="356.75" font-size="5.45" font-weight="bold" text-anchor="middle" fill="#1a1a1a" >14%</text>
<text x="138.7" y="356.75" font-size="5.45" font-weight="bold" text-anchor="middle" fill="#1a1a1a" >98%</text>
<text x="168.5" y="356.75" font-size="5.45" font-weight="bold" text-anchor="middle" fill="#1a1a1a" >96%</text>
<text x="180.2" y="356.75" font-size="5.45" font-weight="bold" text-anchor="middle" fill="#1a1a1a" >92%</text>
<text x="204" y="356.75" font-size="5.45" font-weight="bold" text-anchor="middle" fill="#1a1a1a" >98%</text>
<text x="228.2" y="356.75" font-size="5.45" font-weight="bold" text-anchor="middle" fill="#1a1a1a" >95%</text>
<text transform="translate(20.76,368.4) rotate(-90)" font-size="6" font-weight="bold" text-anchor="middle" fill="#111" >SERAPHINA</text>
<rect x="48.7" y="392.4" width="5" height="32.9" fill="#e8e8e8" stroke="none" stroke-width="1" />
<rect x="79.5" y="392.4" width="5" height="32.9" fill="#e8e8e8" stroke="none" stroke-width="1" />
<rect x="102.3" y="392.4" width="4" height="32.9" fill="#e8e8e8" stroke="none" stroke-width="1" />
<rect x="112.6" y="392.4" width="5" height="32.9" fill="#e8e8e8" stroke="none" stroke-width="1" />
<rect x="135.4" y="392.4" width="4.2" height="32.9" fill="#e8e8e8" stroke="none" stroke-width="1" />
<rect x="166.2" y="392.4" width="4.6" height="32.9" fill="#e8e8e8" stroke="none" stroke-width="1" />
<rect x="177.8" y="392.4" width="4.8" height="32.9" fill="#e8e8e8" stroke="none" stroke-width="1" />
<rect x="200.8" y="392.4" width="4" height="32.9" fill="#e8e8e8" stroke="none" stroke-width="1" />
<rect x="226.2" y="392.4" width="4" height="32.9" fill="#e8e8e8" stroke="none" stroke-width="1" />
<line x1="33" y1="402" x2="123.6" y2="402" stroke="#d6d6d6" stroke-width="0.5" />
<line x1="128" y1="393.6" x2="237.8" y2="393.6" stroke="#dddddd" stroke-width="0.5" />
<line x1="128" y1="415" x2="237.8" y2="415" stroke="#ead6d6" stroke-width="0.6" />
<line x1="33.2" y1="390.4" x2="33.2" y2="426.3" stroke="#777" stroke-width="0.8" />
<line x1="31.2" y1="391" x2="34.2" y2="391" stroke="#555" stroke-width="0.7" />
<line x1="31.2" y1="402" x2="34.2" y2="402" stroke="#555" stroke-width="0.7" />
<line x1="31.2" y1="412.9" x2="34.2" y2="412.9" stroke="#555" stroke-width="0.7" />
<line x1="31.2" y1="423.5" x2="34.2" y2="423.5" stroke="#555" stroke-width="0.7" />
<line x1="33.2" y1="426.3" x2="123.6" y2="426.3" stroke="#a8a8a8" stroke-width="1.2" />
<line x1="128" y1="426.3" x2="237.8" y2="426.3" stroke="#a8a8a8" stroke-width="1.2" />
<path d="M33.4,425.3 L41.6,425.3 L42.0,422.9 Q44,423.3 50,423.5 L123.4,423.5" stroke="#cf6a6a" stroke-width="0.7" fill="none" />
<path d="M128.2,423.5 L237.6,423.5" stroke="#cf6a6a" stroke-width="0.7" fill="none" />
<path d="M42,423.5 L42,412.27 M46.8,423.5 L46.8,419.13 M50,423.5 L50,416.22 M53.4,423.5 L53.4,420.4 M56.4,423.5 L56.4,415.13 M59.4,423.5 L59.4,416.57 M62.3,423.5 L62.3,416.63 M65.3,423.5 L65.3,407.94 M68.3,423.5 L68.3,418.57 M71.3,423.5 L71.3,416.73 M74,423.5 L74,417.7 M77.3,423.5 L77.3,418.95 M80.2,423.5 L80.2,417.09 M83.1,423.5 L83.1,416.91 M86.2,423.5 L86.2,415.53 M89.3,423.5 L89.3,418.01 M92.3,423.5 L92.3,418.4 M95.3,423.5 L95.3,419.3 M100.9,423.5 L100.9,420.25 M103.6,423.5 L103.6,415.67 M106.9,423.5 L106.9,416.7 M112.8,423.5 L112.8,414.52 M115.8,423.5 L115.8,412.36 M118.8,423.5 L118.8,419.63 M121.6,423.5 L121.6,413.04 M130.1,423.5 L130.1,402.62 M136.5,423.5 L136.5,411.64 M139.6,423.5 L139.6,417.05 M142.7,423.5 L142.7,417.99 M145.7,423.5 L145.7,417.04 M148.9,423.5 L148.9,416.37 M151.8,423.5 L151.8,416.28 M155.1,423.5 L155.1,416.38 M158.3,423.5 L158.3,409.57 M164.5,423.5 L164.5,410.75 M167.5,423.5 L167.5,419.91 M170.6,423.5 L170.6,418.51 M176.9,423.5 L176.9,417.82 M179.6,423.5 L179.6,416.53 M182.9,423.5 L182.9,419.31 M186.5,423.5 L186.5,415.72 M189.6,423.5 L189.6,411.43 M192.6,423.5 L192.6,419.84 M198.5,423.5 L198.5,419.18 M201.5,423.5 L201.5,420.53 M204.9,423.5 L204.9,419.73 M207.9,423.5 L207.9,416.61 M211.2,423.5 L211.2,412.28 M214.3,423.5 L214.3,418.22 M217.7,423.5 L217.7,418.08 M223.5,423.5 L223.5,419.92 M226.6,423.5 L226.6,420.61 M230,423.5 L230,417.91 M233,423.5 L233,417.98 M236,423.5 L236,418.28 " stroke="#955555" stroke-width="0.75" fill="none" />
<text x="51.2" y="396.95" font-size="5.45" font-weight="bold" text-anchor="middle" fill="#1a1a1a" >93%</text>
<text x="82" y="396.95" font-size="5.45" font-weight="bold" text-anchor="middle" fill="#1a1a1a" >80%</text>
<text x="104.3" y="396.95" font-size="5.45" font-weight="bold" text-anchor="middle" fill="#1a1a1a" >93%</text>
<text x="116.1" y="396.95" font-size="5.45" font-weight="bold" text-anchor="middle" fill="#1a1a1a" >95%</text>
<text x="137.5" y="396.95" font-size="5.45" font-weight="bold" text-anchor="middle" fill="#1a1a1a" >98%</text>
<text x="168.5" y="396.95" font-size="5.45" font-weight="bold" text-anchor="middle" fill="#1a1a1a" >97%</text>
<text x="180.2" y="396.95" font-size="5.45" font-weight="bold" text-anchor="middle" fill="#1a1a1a" >95%</text>
<text x="204" y="396.95" font-size="5.45" font-weight="bold" text-anchor="middle" fill="#1a1a1a" >96%</text>
<text x="228.2" y="396.95" font-size="5.45" font-weight="bold" text-anchor="middle" fill="#1a1a1a" >97%</text>
<text transform="translate(20.76,407.5) rotate(-90)" font-size="6" font-weight="bold" text-anchor="middle" fill="#111" >DAUDI</text>
<rect x="48.7" y="433.2" width="5" height="33.1" fill="#e8e8e8" stroke="none" stroke-width="1" />
<rect x="79.5" y="433.2" width="5" height="33.1" fill="#e8e8e8" stroke="none" stroke-width="1" />
<rect x="102.3" y="433.2" width="4" height="33.1" fill="#e8e8e8" stroke="none" stroke-width="1" />
<rect x="112.6" y="433.2" width="5" height="33.1" fill="#e8e8e8" stroke="none" stroke-width="1" />
<rect x="135.4" y="433.2" width="4.2" height="33.1" fill="#e8e8e8" stroke="none" stroke-width="1" />
<rect x="166.2" y="433.2" width="4.6" height="33.1" fill="#e8e8e8" stroke="none" stroke-width="1" />
<rect x="177.8" y="433.2" width="4.8" height="33.1" fill="#e8e8e8" stroke="none" stroke-width="1" />
<rect x="200.8" y="433.2" width="4" height="33.1" fill="#e8e8e8" stroke="none" stroke-width="1" />
<rect x="226.2" y="433.2" width="4" height="33.1" fill="#e8e8e8" stroke="none" stroke-width="1" />
<line x1="33" y1="448.8" x2="123.6" y2="448.8" stroke="#d6d6d6" stroke-width="0.5" />
<line x1="128" y1="434.4" x2="237.8" y2="434.4" stroke="#dddddd" stroke-width="0.5" />
<line x1="128" y1="461.8" x2="237.8" y2="461.8" stroke="#ead6d6" stroke-width="0.6" />
<line x1="33.2" y1="431.2" x2="33.2" y2="467.3" stroke="#777" stroke-width="0.8" />
<line x1="31.2" y1="432.7" x2="34.2" y2="432.7" stroke="#555" stroke-width="0.7" />
<line x1="31.2" y1="440.8" x2="34.2" y2="440.8" stroke="#555" stroke-width="0.7" />
<line x1="31.2" y1="448.8" x2="34.2" y2="448.8" stroke="#555" stroke-width="0.7" />
<line x1="31.2" y1="457.1" x2="34.2" y2="457.1" stroke="#555" stroke-width="0.7" />
<line x1="31.2" y1="464.8" x2="34.2" y2="464.8" stroke="#555" stroke-width="0.7" />
<line x1="33.2" y1="467.3" x2="123.6" y2="467.3" stroke="#a8a8a8" stroke-width="1.2" />
<line x1="128" y1="467.3" x2="237.8" y2="467.3" stroke="#a8a8a8" stroke-width="1.2" />
<path d="M33.4,466 L41.6,466 L42.0,463.6 Q44,464 50,464.2 L123.4,464.2" stroke="#cf6a6a" stroke-width="0.7" fill="none" />
<path d="M128.2,464.2 L237.6,464.2" stroke="#cf6a6a" stroke-width="0.7" fill="none" />
<path d="M42,464.2 L42,456.11 M46.8,464.2 L46.8,455.49 M50,464.2 L50,456.59 M53.4,464.2 L53.4,460.22 M56.4,464.2 L56.4,456.69 M59.4,464.2 L59.4,457.24 M62.3,464.2 L62.3,460.19 M65.3,464.2 L65.3,448.36 M68.3,464.2 L68.3,455.91 M71.3,464.2 L71.3,459.84 M74,464.2 L74,457.53 M77.3,464.2 L77.3,456.3 M80.2,464.2 L80.2,459.69 M83.1,464.2 L83.1,455.21 M86.2,464.2 L86.2,460.5 M89.3,464.2 L89.3,456.61 M92.3,464.2 L92.3,455.34 M95.3,464.2 L95.3,456.78 M100.9,464.2 L100.9,458.01 M103.6,464.2 L103.6,456.64 M106.9,464.2 L106.9,456.24 M112.8,464.2 L112.8,457.66 M115.8,464.2 L115.8,456.45 M118.8,464.2 L118.8,457.01 M121.6,464.2 L121.6,458.69 M130.1,464.2 L130.1,447.44 M136.5,464.2 L136.5,461.09 M139.6,464.2 L139.6,457.39 M142.7,464.2 L142.7,456.38 M145.7,464.2 L145.7,461.62 M148.9,464.2 L148.9,461.39 M151.8,464.2 L151.8,459.94 M155.1,464.2 L155.1,459.22 M158.3,464.2 L158.3,450.57 M164.5,464.2 L164.5,461.29 M167.5,464.2 L167.5,459.74 M170.6,464.2 L170.6,460.23 M176.9,464.2 L176.9,456.63 M179.6,464.2 L179.6,461.24 M182.9,464.2 L182.9,456.65 M186.5,464.2 L186.5,460.78 M189.6,464.2 L189.6,459.83 M192.6,464.2 L192.6,461.46 M198.5,464.2 L198.5,460.41 M201.5,464.2 L201.5,459.7 M204.9,464.2 L204.9,456.22 M207.9,464.2 L207.9,458.3 M211.2,464.2 L211.2,451.25 M214.3,464.2 L214.3,457.94 M217.7,464.2 L217.7,458.76 M223.5,464.2 L223.5,461.65 M226.6,464.2 L226.6,457.89 M230,464.2 L230,451.96 M233,464.2 L233,457.03 M236,464.2 L236,457.57 " stroke="#955555" stroke-width="0.75" fill="none" />
<text x="51.2" y="437.95" font-size="5.45" font-weight="bold" text-anchor="middle" fill="#1a1a1a" >20%</text>
<text x="82" y="437.95" font-size="5.45" font-weight="bold" text-anchor="middle" fill="#1a1a1a" >11%</text>
<text x="104.3" y="437.95" font-size="5.45" font-weight="bold" text-anchor="middle" fill="#1a1a1a" >6%</text>
<text x="116.1" y="437.95" font-size="5.45" font-weight="bold" text-anchor="middle" fill="#1a1a1a" >3%</text>
<text x="137.5" y="437.95" font-size="5.45" font-weight="bold" text-anchor="middle" fill="#1a1a1a" >13%</text>
<text x="168.5" y="437.95" font-size="5.45" font-weight="bold" text-anchor="middle" fill="#1a1a1a" >50%</text>
<text x="180.2" y="437.95" font-size="5.45" font-weight="bold" text-anchor="middle" fill="#1a1a1a" >45%</text>
<text x="204" y="437.95" font-size="5.45" font-weight="bold" text-anchor="middle" fill="#1a1a1a" >52%</text>
<text x="228.2" y="437.95" font-size="5.45" font-weight="bold" text-anchor="middle" fill="#1a1a1a" >68%</text>
<text transform="translate(20.76,448.1) rotate(-90)" font-size="6" font-weight="bold" text-anchor="middle" fill="#111" >KHM10B</text>
<rect x="48.7" y="473.7" width="5" height="33.6" fill="#e8e8e8" stroke="none" stroke-width="1" />
<rect x="79.5" y="473.7" width="5" height="33.6" fill="#e8e8e8" stroke="none" stroke-width="1" />
<rect x="102.3" y="473.7" width="4" height="33.6" fill="#e8e8e8" stroke="none" stroke-width="1" />
<rect x="112.6" y="473.7" width="5" height="33.6" fill="#e8e8e8" stroke="none" stroke-width="1" />
<rect x="135.4" y="473.7" width="4.2" height="33.6" fill="#e8e8e8" stroke="none" stroke-width="1" />
<rect x="166.2" y="473.7" width="4.6" height="33.6" fill="#e8e8e8" stroke="none" stroke-width="1" />
<rect x="177.8" y="473.7" width="4.8" height="33.6" fill="#e8e8e8" stroke="none" stroke-width="1" />
<rect x="200.8" y="473.7" width="4" height="33.6" fill="#e8e8e8" stroke="none" stroke-width="1" />
<rect x="226.2" y="473.7" width="4" height="33.6" fill="#e8e8e8" stroke="none" stroke-width="1" />
<line x1="33" y1="488.5" x2="123.6" y2="488.5" stroke="#d6d6d6" stroke-width="0.5" />
<line x1="128" y1="474.9" x2="237.8" y2="474.9" stroke="#dddddd" stroke-width="0.5" />
<line x1="128" y1="501.5" x2="237.8" y2="501.5" stroke="#ead6d6" stroke-width="0.6" />
<line x1="33.2" y1="471.7" x2="33.2" y2="508.3" stroke="#777" stroke-width="0.8" />
<line x1="31.2" y1="480" x2="34.2" y2="480" stroke="#555" stroke-width="0.7" />
<line x1="31.2" y1="488.5" x2="34.2" y2="488.5" stroke="#555" stroke-width="0.7" />
<line x1="31.2" y1="497.3" x2="34.2" y2="497.3" stroke="#555" stroke-width="0.7" />
<line x1="31.2" y1="505.8" x2="34.2" y2="505.8" stroke="#555" stroke-width="0.7" />
<line x1="33.2" y1="508.3" x2="123.6" y2="508.3" stroke="#a8a8a8" stroke-width="1.2" />
<line x1="128" y1="508.3" x2="237.8" y2="508.3" stroke="#a8a8a8" stroke-width="1.2" />
<path d="M33.4,507.6 L41.6,507.6 L42.0,505.2 Q44,505.6 50,505.8 L123.4,505.8" stroke="#cf6a6a" stroke-width="0.7" fill="none" />
<path d="M128.2,505.8 L237.6,505.8" stroke="#cf6a6a" stroke-width="0.7" fill="none" />
<path d="M42,505.8 L42,492.97 M46.8,505.8 L46.8,493.38 M50,505.8 L50,497.97 M53.4,505.8 L53.4,496.97 M56.4,505.8 L56.4,500.09 M59.4,505.8 L59.4,498.66 M62.3,505.8 L62.3,501.13 M65.3,505.8 L65.3,490.7 M68.3,505.8 L68.3,494.75 M71.3,505.8 L71.3,497.91 M74,505.8 L74,493.59 M77.3,505.8 L77.3,502.2 M80.2,505.8 L80.2,498.33 M83.1,505.8 L83.1,499.48 M86.2,505.8 L86.2,499.82 M89.3,505.8 L89.3,501.88 M92.3,505.8 L92.3,501.58 M95.3,505.8 L95.3,500.87 M100.9,505.8 L100.9,501.52 M103.6,505.8 L103.6,501.19 M106.9,505.8 L106.9,497.83 M112.8,505.8 L112.8,498.21 M115.8,505.8 L115.8,499.5 M118.8,505.8 L118.8,500.49 M121.6,505.8 L121.6,501.36 M130.1,505.8 L130.1,485.79 M136.5,505.8 L136.5,498.51 M139.6,505.8 L139.6,502.53 M142.7,505.8 L142.7,499.28 M145.7,505.8 L145.7,502.94 M148.9,505.8 L148.9,500.34 M151.8,505.8 L151.8,500.58 M155.1,505.8 L155.1,500.28 M158.3,505.8 L158.3,491.47 M164.5,505.8 L164.5,499.18 M167.5,505.8 L167.5,502.06 M170.6,505.8 L170.6,498.98 M176.9,505.8 L176.9,502.93 M179.6,505.8 L179.6,501.61 M182.9,505.8 L182.9,501.77 M186.5,505.8 L186.5,501.48 M189.6,505.8 L189.6,500.94 M192.6,505.8 L192.6,502.71 M198.5,505.8 L198.5,503.07 M201.5,505.8 L201.5,500.62 M204.9,505.8 L204.9,502.38 M207.9,505.8 L207.9,503.27 M211.2,505.8 L211.2,492.69 M214.3,505.8 L214.3,499.41 M217.7,505.8 L217.7,501.52 M223.5,505.8 L223.5,498.87 M226.6,505.8 L226.6,500.36 M230,505.8 L230,503.11 M233,505.8 L233,500.13 M236,505.8 L236,499.94 " stroke="#955555" stroke-width="0.75" fill="none" />
<text x="51.2" y="480.05" font-size="5.45" font-weight="bold" text-anchor="middle" fill="#1a1a1a" >9%</text>
<text x="82" y="480.05" font-size="5.45" font-weight="bold" text-anchor="middle" fill="#1a1a1a" >11%</text>
<text x="104.3" y="480.05" font-size="5.45" font-weight="bold" text-anchor="middle" fill="#1a1a1a" >11%</text>
<text x="116.1" y="480.05" font-size="5.45" font-weight="bold" text-anchor="middle" fill="#1a1a1a" >6%</text>
<text x="137.5" y="480.05" font-size="5.45" font-weight="bold" text-anchor="middle" fill="#1a1a1a" >3%</text>
<text x="168.5" y="480.05" font-size="5.45" font-weight="bold" text-anchor="middle" fill="#1a1a1a" >3%</text>
<text x="180.2" y="480.05" font-size="5.45" font-weight="bold" text-anchor="middle" fill="#1a1a1a" >2%</text>
<text x="204" y="480.05" font-size="5.45" font-weight="bold" text-anchor="middle" fill="#1a1a1a" >5%</text>
<text x="229.4" y="480.05" font-size="5.45" font-weight="bold" text-anchor="middle" fill="#1a1a1a" >5%</text>
<text transform="translate(20.76,489.3) rotate(-90)" font-size="6" font-weight="bold" text-anchor="middle" fill="#111" >DG75</text>
</g>
<line x1="4" y1="515.2" x2="32.5" y2="508.2" stroke="#222" stroke-width="0.9" />
<line x1="241" y1="508.4" x2="276.6" y2="514.6" stroke="#222" stroke-width="0.9" />
<text x="3.6" y="523.9" font-size="3.9" font-weight="bold" text-anchor="middle" fill="#2a2a2a" >G</text>
<text x="7.84" y="523.9" font-size="3.9" font-weight="bold" text-anchor="middle" fill="#2a2a2a" >G</text>
<text x="12.07" y="523.9" font-size="3.9" font-weight="bold" text-anchor="middle" fill="#2a2a2a" >T</text>
<text x="16.31" y="523.9" font-size="3.9" font-weight="bold" text-anchor="middle" fill="#2a2a2a" >A</text>
<text x="20.54" y="523.9" font-size="3.9" font-weight="bold" text-anchor="middle" fill="#2a2a2a" >T</text>
<text x="24.78" y="523.9" font-size="3.9" font-weight="bold" text-anchor="middle" fill="#2a2a2a" >C</text>
<text x="29.01" y="523.9" font-size="3.9" font-weight="bold" text-anchor="middle" fill="#2a2a2a" >G</text>
<text x="33.25" y="523.9" font-size="3.9" font-weight="bold" text-anchor="middle" fill="#2a2a2a" >T</text>
<text x="37.49" y="523.9" font-size="3.9" font-weight="bold" text-anchor="middle" fill="#2a2a2a" >A</text>
<text x="41.72" y="523.9" font-size="3.9" font-weight="bold" text-anchor="middle" fill="#2a2a2a" >T</text>
<text x="45.96" y="523.9" font-size="3.9" font-weight="bold" text-anchor="middle" fill="#2a2a2a" >A</text>
<text x="50.19" y="523.9" font-size="3.9" font-weight="bold" text-anchor="middle" fill="#2a2a2a" >T</text>
<text x="54.43" y="523.9" font-size="3.9" font-weight="bold" text-anchor="middle" fill="#2a2a2a" >G</text>
<text x="58.66" y="523.9" font-size="3.9" font-weight="bold" text-anchor="middle" fill="#2a2a2a" >A</text>
<text x="62.9" y="523.9" font-size="3.9" font-weight="bold" text-anchor="middle" fill="#2a2a2a" >T</text>
<text x="67.14" y="523.9" font-size="3.9" font-weight="bold" text-anchor="middle" fill="#2a2a2a" >C</text>
<text x="71.37" y="523.9" font-size="3.9" font-weight="bold" text-anchor="middle" fill="#2a2a2a" >G</text>
<text x="75.61" y="523.9" font-size="3.9" font-weight="bold" text-anchor="middle" fill="#2a2a2a" >A</text>
<text x="79.84" y="523.9" font-size="3.9" font-weight="bold" text-anchor="middle" fill="#2a2a2a" >T</text>
<text x="84.08" y="523.9" font-size="3.9" font-weight="bold" text-anchor="middle" fill="#2a2a2a" >G</text>
<text x="88.31" y="523.9" font-size="3.9" font-weight="bold" text-anchor="middle" fill="#2a2a2a" >T</text>
<text x="92.55" y="523.9" font-size="3.9" font-weight="bold" text-anchor="middle" fill="#2a2a2a" >A</text>
<text x="96.79" y="523.9" font-size="3.9" font-weight="bold" text-anchor="middle" fill="#2a2a2a" >T</text>
<text x="101.02" y="523.9" font-size="3.9" font-weight="bold" text-anchor="middle" fill="#2a2a2a" >C</text>
<text x="105.26" y="523.9" font-size="3.9" font-weight="bold" text-anchor="middle" fill="#2a2a2a" >A</text>
<text x="109.49" y="523.9" font-size="3.9" font-weight="bold" text-anchor="middle" fill="#2a2a2a" >G</text>
<text x="113.73" y="523.9" font-size="3.9" font-weight="bold" text-anchor="middle" fill="#2a2a2a" >T</text>
<text x="117.96" y="523.9" font-size="3.9" font-weight="bold" text-anchor="middle" fill="#2a2a2a" >C</text>
<text x="122.2" y="523.9" font-size="3.9" font-weight="bold" text-anchor="middle" fill="#2a2a2a" >G</text>
<text x="129.3" y="523.9" font-size="3.9" font-weight="bold" text-anchor="middle" fill="#2a2a2a" >G</text>
<text x="133.7" y="523.9" font-size="3.9" font-weight="bold" text-anchor="middle" fill="#2a2a2a" >G</text>
<text x="138.1" y="523.9" font-size="3.9" font-weight="bold" text-anchor="middle" fill="#2a2a2a" >T</text>
<text x="142.5" y="523.9" font-size="3.9" font-weight="bold" text-anchor="middle" fill="#2a2a2a" >C</text>
<text x="146.9" y="523.9" font-size="3.9" font-weight="bold" text-anchor="middle" fill="#2a2a2a" >G</text>
<text x="151.3" y="523.9" font-size="3.9" font-weight="bold" text-anchor="middle" fill="#2a2a2a" >A</text>
<text x="155.7" y="523.9" font-size="3.9" font-weight="bold" text-anchor="middle" fill="#2a2a2a" >G</text>
<text x="160.1" y="523.9" font-size="3.9" font-weight="bold" text-anchor="middle" fill="#2a2a2a" >T</text>
<text x="164.5" y="523.9" font-size="3.9" font-weight="bold" text-anchor="middle" fill="#2a2a2a" >A</text>
<text x="168.9" y="523.9" font-size="3.9" font-weight="bold" text-anchor="middle" fill="#2a2a2a" >G</text>
<text x="173.3" y="523.9" font-size="3.9" font-weight="bold" text-anchor="middle" fill="#2a2a2a" >T</text>
<text x="177.7" y="523.9" font-size="3.9" font-weight="bold" text-anchor="middle" fill="#2a2a2a" >A</text>
<text x="182.1" y="523.9" font-size="3.9" font-weight="bold" text-anchor="middle" fill="#2a2a2a" >T</text>
<text x="186.5" y="523.9" font-size="3.9" font-weight="bold" text-anchor="middle" fill="#2a2a2a" >C</text>
<text x="190.9" y="523.9" font-size="3.9" font-weight="bold" text-anchor="middle" fill="#2a2a2a" >A</text>
<text x="195.3" y="523.9" font-size="3.9" font-weight="bold" text-anchor="middle" fill="#2a2a2a" >G</text>
<text x="199.7" y="523.9" font-size="3.9" font-weight="bold" text-anchor="middle" fill="#2a2a2a" >T</text>
<text x="204.1" y="523.9" font-size="3.9" font-weight="bold" text-anchor="middle" fill="#2a2a2a" >C</text>
<text x="208.5" y="523.9" font-size="3.9" font-weight="bold" text-anchor="middle" fill="#2a2a2a" >G</text>
<text x="212.9" y="523.9" font-size="3.9" font-weight="bold" text-anchor="middle" fill="#2a2a2a" >T</text>
<text x="217.3" y="523.9" font-size="3.9" font-weight="bold" text-anchor="middle" fill="#2a2a2a" >A</text>
<text x="221.7" y="523.9" font-size="3.9" font-weight="bold" text-anchor="middle" fill="#2a2a2a" >T</text>
<text x="226.1" y="523.9" font-size="3.9" font-weight="bold" text-anchor="middle" fill="#2a2a2a" >G</text>
<text x="230.5" y="523.9" font-size="3.9" font-weight="bold" text-anchor="middle" fill="#2a2a2a" >T</text>
<text x="234.9" y="523.9" font-size="3.9" font-weight="bold" text-anchor="middle" fill="#2a2a2a" >C</text>
<text x="239.3" y="523.9" font-size="3.9" font-weight="bold" text-anchor="middle" fill="#2a2a2a" >G</text>
<text x="243.7" y="523.9" font-size="3.9" font-weight="bold" text-anchor="middle" fill="#2a2a2a" >T</text>
<text x="248.1" y="523.9" font-size="3.9" font-weight="bold" text-anchor="middle" fill="#2a2a2a" >G</text>
<text x="252.5" y="523.9" font-size="3.9" font-weight="bold" text-anchor="middle" fill="#2a2a2a" >T</text>
<text x="256.9" y="523.9" font-size="3.9" font-weight="bold" text-anchor="middle" fill="#2a2a2a" >G</text>
<text x="261.3" y="523.9" font-size="3.9" font-weight="bold" text-anchor="middle" fill="#2a2a2a" >A</text>
<text x="265.7" y="523.9" font-size="3.9" font-weight="bold" text-anchor="middle" fill="#2a2a2a" >T</text>
<text x="270.1" y="523.9" font-size="3.9" font-weight="bold" text-anchor="middle" fill="#2a2a2a" >C</text>
<text x="274.5" y="523.9" font-size="3.9" font-weight="bold" text-anchor="middle" fill="#2a2a2a" >G</text>
<text x="278.9" y="523.9" font-size="3.9" font-weight="bold" text-anchor="middle" fill="#2a2a2a" >T</text>
<rect x="5.47" y="537.3" width="3.75" height="6" fill="#dcdcdc" stroke="none" stroke-width="1" />
<rect x="9.22" y="537.3" width="3.75" height="6" fill="#dcdcdc" stroke="none" stroke-width="1" />
<rect x="46.73" y="537.3" width="3.75" height="6" fill="#dcdcdc" stroke="none" stroke-width="1" />
<rect x="50.48" y="537.3" width="3.75" height="6" fill="#dcdcdc" stroke="none" stroke-width="1" />
<rect x="72.97" y="537.3" width="3.75" height="6" fill="#dcdcdc" stroke="none" stroke-width="1" />
<rect x="76.72" y="537.3" width="3.75" height="6" fill="#dcdcdc" stroke="none" stroke-width="1" />
<rect x="87.97" y="537.3" width="3.75" height="6" fill="#dcdcdc" stroke="none" stroke-width="1" />
<rect x="91.72" y="537.3" width="3.75" height="6" fill="#dcdcdc" stroke="none" stroke-width="1" />
<text x="3.6" y="540.9" font-size="3.7" font-weight="bold" text-anchor="middle" fill="#2a2a2a" >A</text>
<text x="7.35" y="540.9" font-size="3.7" font-weight="bold" text-anchor="middle" fill="#2a2a2a" >C</text>
<text x="11.1" y="540.9" font-size="3.7" font-weight="bold" text-anchor="middle" fill="#2a2a2a" >G</text>
<text x="14.85" y="540.9" font-size="3.7" font-weight="bold" text-anchor="middle" fill="#2a2a2a" >T</text>
<text x="18.6" y="540.9" font-size="3.7" font-weight="bold" text-anchor="middle" fill="#2a2a2a" >A</text>
<text x="22.35" y="540.9" font-size="3.7" font-weight="bold" text-anchor="middle" fill="#2a2a2a" >T</text>
<text x="26.1" y="540.9" font-size="3.7" font-weight="bold" text-anchor="middle" fill="#2a2a2a" >T</text>
<text x="29.85" y="540.9" font-size="3.7" font-weight="bold" text-anchor="middle" fill="#2a2a2a" >T</text>
<text x="33.6" y="540.9" font-size="3.7" font-weight="bold" text-anchor="middle" fill="#2a2a2a" >A</text>
<text x="37.35" y="540.9" font-size="3.7" font-weight="bold" text-anchor="middle" fill="#2a2a2a" >T</text>
<text x="41.1" y="540.9" font-size="3.7" font-weight="bold" text-anchor="middle" fill="#2a2a2a" >T</text>
<text x="44.85" y="540.9" font-size="3.7" font-weight="bold" text-anchor="middle" fill="#2a2a2a" >A</text>
<text x="48.6" y="540.9" font-size="3.7" font-weight="bold" text-anchor="middle" fill="#2a2a2a" >C</text>
<text x="52.35" y="540.9" font-size="3.7" font-weight="bold" text-anchor="middle" fill="#2a2a2a" >G</text>
<text x="56.1" y="540.9" font-size="3.7" font-weight="bold" text-anchor="middle" fill="#2a2a2a" >A</text>
<text x="59.85" y="540.9" font-size="3.7" font-weight="bold" text-anchor="middle" fill="#2a2a2a" >T</text>
<text x="63.6" y="540.9" font-size="3.7" font-weight="bold" text-anchor="middle" fill="#2a2a2a" >T</text>
<text x="67.35" y="540.9" font-size="3.7" font-weight="bold" text-anchor="middle" fill="#2a2a2a" >G</text>
<text x="71.1" y="540.9" font-size="3.7" font-weight="bold" text-anchor="middle" fill="#2a2a2a" >A</text>
<text x="74.85" y="540.9" font-size="3.7" font-weight="bold" text-anchor="middle" fill="#2a2a2a" >C</text>
<text x="78.6" y="540.9" font-size="3.7" font-weight="bold" text-anchor="middle" fill="#2a2a2a" >G</text>
<text x="82.35" y="540.9" font-size="3.7" font-weight="bold" text-anchor="middle" fill="#2a2a2a" >G</text>
<text x="86.1" y="540.9" font-size="3.7" font-weight="bold" text-anchor="middle" fill="#2a2a2a" >T</text>
<text x="89.85" y="540.9" font-size="3.7" font-weight="bold" text-anchor="middle" fill="#2a2a2a" >C</text>
<text x="93.6" y="540.9" font-size="3.7" font-weight="bold" text-anchor="middle" fill="#2a2a2a" >G</text>
<rect x="147.21" y="537.3" width="3.8" height="6" fill="#dcdcdc" stroke="none" stroke-width="1" />
<rect x="151.01" y="537.3" width="3.8" height="6" fill="#dcdcdc" stroke="none" stroke-width="1" />
<rect x="192.84" y="537.3" width="3.8" height="6" fill="#dcdcdc" stroke="none" stroke-width="1" />
<rect x="196.64" y="537.3" width="3.8" height="6" fill="#dcdcdc" stroke="none" stroke-width="1" />
<rect x="200.45" y="537.3" width="3.8" height="6" fill="#dcdcdc" stroke="none" stroke-width="1" />
<rect x="204.25" y="537.3" width="3.8" height="6" fill="#dcdcdc" stroke="none" stroke-width="1" />
<rect x="230.87" y="537.3" width="3.8" height="6" fill="#dcdcdc" stroke="none" stroke-width="1" />
<rect x="234.67" y="537.3" width="3.8" height="6" fill="#dcdcdc" stroke="none" stroke-width="1" />
<rect x="268.89" y="537.3" width="3.8" height="6" fill="#dcdcdc" stroke="none" stroke-width="1" />
<rect x="272.7" y="537.3" width="3.8" height="6" fill="#dcdcdc" stroke="none" stroke-width="1" />
<text x="130.1" y="540.9" font-size="3.7" font-weight="bold" text-anchor="middle" fill="#2a2a2a" >G</text>
<text x="133.9" y="540.9" font-size="3.7" font-weight="bold" text-anchor="middle" fill="#2a2a2a" >G</text>
<text x="137.71" y="540.9" font-size="3.7" font-weight="bold" text-anchor="middle" fill="#2a2a2a" >G</text>
<text x="141.51" y="540.9" font-size="3.7" font-weight="bold" text-anchor="middle" fill="#2a2a2a" >G</text>
<text x="145.31" y="540.9" font-size="3.7" font-weight="bold" text-anchor="middle" fill="#2a2a2a" >T</text>
<text x="149.11" y="540.9" font-size="3.7" font-weight="bold" text-anchor="middle" fill="#2a2a2a" >C</text>
<text x="152.92" y="540.9" font-size="3.7" font-weight="bold" text-anchor="middle" fill="#2a2a2a" >G</text>
<text x="156.72" y="540.9" font-size="3.7" font-weight="bold" text-anchor="middle" fill="#2a2a2a" >G</text>
<text x="160.52" y="540.9" font-size="3.7" font-weight="bold" text-anchor="middle" fill="#2a2a2a" >A</text>
<text x="164.32" y="540.9" font-size="3.7" font-weight="bold" text-anchor="middle" fill="#2a2a2a" >G</text>
<text x="168.13" y="540.9" font-size="3.7" font-weight="bold" text-anchor="middle" fill="#2a2a2a" >T</text>
<text x="171.93" y="540.9" font-size="3.7" font-weight="bold" text-anchor="middle" fill="#2a2a2a" >A</text>
<text x="175.73" y="540.9" font-size="3.7" font-weight="bold" text-anchor="middle" fill="#2a2a2a" >G</text>
<text x="179.53" y="540.9" font-size="3.7" font-weight="bold" text-anchor="middle" fill="#2a2a2a" >G</text>
<text x="183.34" y="540.9" font-size="3.7" font-weight="bold" text-anchor="middle" fill="#2a2a2a" >G</text>
<text x="187.14" y="540.9" font-size="3.7" font-weight="bold" text-anchor="middle" fill="#2a2a2a" >A</text>
<text x="190.94" y="540.9" font-size="3.7" font-weight="bold" text-anchor="middle" fill="#2a2a2a" >A</text>
<text x="194.74" y="540.9" font-size="3.7" font-weight="bold" text-anchor="middle" fill="#2a2a2a" >C</text>
<text x="198.55" y="540.9" font-size="3.7" font-weight="bold" text-anchor="middle" fill="#2a2a2a" >G</text>
<text x="202.35" y="540.9" font-size="3.7" font-weight="bold" text-anchor="middle" fill="#2a2a2a" >C</text>
<text x="206.15" y="540.9" font-size="3.7" font-weight="bold" text-anchor="middle" fill="#2a2a2a" >G</text>
<text x="209.95" y="540.9" font-size="3.7" font-weight="bold" text-anchor="middle" fill="#2a2a2a" >G</text>
<text x="213.76" y="540.9" font-size="3.7" font-weight="bold" text-anchor="middle" fill="#2a2a2a" >T</text>
<text x="217.56" y="540.9" font-size="3.7" font-weight="bold" text-anchor="middle" fill="#2a2a2a" >T</text>
<text x="221.36" y="540.9" font-size="3.7" font-weight="bold" text-anchor="middle" fill="#2a2a2a" >A</text>
<text x="225.16" y="540.9" font-size="3.7" font-weight="bold" text-anchor="middle" fill="#2a2a2a" >G</text>
<text x="228.97" y="540.9" font-size="3.7" font-weight="bold" text-anchor="middle" fill="#2a2a2a" >T</text>
<text x="232.77" y="540.9" font-size="3.7" font-weight="bold" text-anchor="middle" fill="#2a2a2a" >C</text>
<text x="236.57" y="540.9" font-size="3.7" font-weight="bold" text-anchor="middle" fill="#2a2a2a" >G</text>
<text x="240.37" y="540.9" font-size="3.7" font-weight="bold" text-anchor="middle" fill="#2a2a2a" >T</text>
<text x="244.18" y="540.9" font-size="3.7" font-weight="bold" text-anchor="middle" fill="#2a2a2a" >T</text>
<text x="247.98" y="540.9" font-size="3.7" font-weight="bold" text-anchor="middle" fill="#2a2a2a" >T</text>
<text x="251.78" y="540.9" font-size="3.7" font-weight="bold" text-anchor="middle" fill="#2a2a2a" >G</text>
<text x="255.58" y="540.9" font-size="3.7" font-weight="bold" text-anchor="middle" fill="#2a2a2a" >T</text>
<text x="259.39" y="540.9" font-size="3.7" font-weight="bold" text-anchor="middle" fill="#2a2a2a" >A</text>
<text x="263.19" y="540.9" font-size="3.7" font-weight="bold" text-anchor="middle" fill="#2a2a2a" >A</text>
<text x="266.99" y="540.9" font-size="3.7" font-weight="bold" text-anchor="middle" fill="#2a2a2a" >T</text>
<text x="270.79" y="540.9" font-size="3.7" font-weight="bold" text-anchor="middle" fill="#2a2a2a" >C</text>
<text x="274.6" y="540.9" font-size="3.7" font-weight="bold" text-anchor="middle" fill="#2a2a2a" >G</text>
<text x="278.4" y="540.9" font-size="3.7" font-weight="bold" text-anchor="middle" fill="#2a2a2a" >T</text>
<text x="3.6" y="557.4" font-size="3.7" font-weight="bold" text-anchor="middle" fill="#2a2a2a" >G</text>
<text x="7.28" y="557.4" font-size="3.7" font-weight="bold" text-anchor="middle" fill="#2a2a2a" >A</text>
<text x="10.96" y="557.4" font-size="3.7" font-weight="bold" text-anchor="middle" fill="#2a2a2a" >G</text>
<text x="14.64" y="557.4" font-size="3.7" font-weight="bold" text-anchor="middle" fill="#2a2a2a" >T</text>
<text x="18.32" y="557.4" font-size="3.7" font-weight="bold" text-anchor="middle" fill="#2a2a2a" >T</text>
<text x="21.99" y="557.4" font-size="3.7" font-weight="bold" text-anchor="middle" fill="#2a2a2a" >A</text>
<text x="25.67" y="557.4" font-size="3.7" font-weight="bold" text-anchor="middle" fill="#2a2a2a" >T</text>
<text x="29.35" y="557.4" font-size="3.7" font-weight="bold" text-anchor="middle" fill="#2a2a2a" >A</text>
<text x="33.03" y="557.4" font-size="3.7" font-weight="bold" text-anchor="middle" fill="#2a2a2a" >A</text>
<text x="36.71" y="557.4" font-size="3.7" font-weight="bold" text-anchor="middle" fill="#2a2a2a" >A</text>
<text x="40.39" y="557.4" font-size="3.7" font-weight="bold" text-anchor="middle" fill="#2a2a2a" >T</text>
<text x="44.07" y="557.4" font-size="3.7" font-weight="bold" text-anchor="middle" fill="#2a2a2a" >T</text>
<text x="47.75" y="557.4" font-size="3.7" font-weight="bold" text-anchor="middle" fill="#2a2a2a" >T</text>
<text x="51.43" y="557.4" font-size="3.7" font-weight="bold" text-anchor="middle" fill="#2a2a2a" >T</text>
<text x="55.11" y="557.4" font-size="3.7" font-weight="bold" text-anchor="middle" fill="#2a2a2a" >A</text>
<text x="58.78" y="557.4" font-size="3.7" font-weight="bold" text-anchor="middle" fill="#2a2a2a" >T</text>
<text x="62.46" y="557.4" font-size="3.7" font-weight="bold" text-anchor="middle" fill="#2a2a2a" >T</text>
<text x="66.14" y="557.4" font-size="3.7" font-weight="bold" text-anchor="middle" fill="#2a2a2a" >G</text>
<text x="69.82" y="557.4" font-size="3.7" font-weight="bold" text-anchor="middle" fill="#2a2a2a" >T</text>
<text x="73.5" y="557.4" font-size="3.7" font-weight="bold" text-anchor="middle" fill="#2a2a2a" >G</text>
<text x="130" y="557.4" font-size="3.7" font-weight="bold" text-anchor="middle" fill="#2a2a2a" >A</text>
<text x="133.67" y="557.4" font-size="3.7" font-weight="bold" text-anchor="middle" fill="#2a2a2a" >G</text>
<text x="137.33" y="557.4" font-size="3.7" font-weight="bold" text-anchor="middle" fill="#2a2a2a" >A</text>
<text x="141" y="557.4" font-size="3.7" font-weight="bold" text-anchor="middle" fill="#2a2a2a" >T</text>
<text x="144.67" y="557.4" font-size="3.7" font-weight="bold" text-anchor="middle" fill="#2a2a2a" >T</text>
<text x="148.33" y="557.4" font-size="3.7" font-weight="bold" text-anchor="middle" fill="#2a2a2a" >T</text>
<text x="152" y="557.4" font-size="3.7" font-weight="bold" text-anchor="middle" fill="#2a2a2a" >G</text>
<text x="155.67" y="557.4" font-size="3.7" font-weight="bold" text-anchor="middle" fill="#2a2a2a" >T</text>
<text x="159.33" y="557.4" font-size="3.7" font-weight="bold" text-anchor="middle" fill="#2a2a2a" >T</text>
<text x="163" y="557.4" font-size="3.7" font-weight="bold" text-anchor="middle" fill="#2a2a2a" >G</text>
<text x="166.67" y="557.4" font-size="3.7" font-weight="bold" text-anchor="middle" fill="#2a2a2a" >T</text>
<text x="170.33" y="557.4" font-size="3.7" font-weight="bold" text-anchor="middle" fill="#2a2a2a" >T</text>
<text x="174" y="557.4" font-size="3.7" font-weight="bold" text-anchor="middle" fill="#2a2a2a" >T</text>
<text x="177.67" y="557.4" font-size="3.7" font-weight="bold" text-anchor="middle" fill="#2a2a2a" >T</text>
<text x="181.33" y="557.4" font-size="3.7" font-weight="bold" text-anchor="middle" fill="#2a2a2a" >T</text>
<text x="185" y="557.4" font-size="3.7" font-weight="bold" text-anchor="middle" fill="#2a2a2a" >A</text>
<text x="188.67" y="557.4" font-size="3.7" font-weight="bold" text-anchor="middle" fill="#2a2a2a" >G</text>
<text x="192.33" y="557.4" font-size="3.7" font-weight="bold" text-anchor="middle" fill="#2a2a2a" >T</text>
<text x="196" y="557.4" font-size="3.7" font-weight="bold" text-anchor="middle" fill="#2a2a2a" >A</text>
<text x="282.7" y="521.4" font-size="6.2" font-weight="bold" text-anchor="start" fill="#111" >DISPENSATION</text>
<text x="282.7" y="528.9" font-size="6.2" font-weight="bold" text-anchor="start" fill="#111" >ORDER</text>
<text x="282.7" y="536.4" font-size="6.2" font-weight="bold" text-anchor="start" fill="#111" >ANALYZED</text>
<text x="282.7" y="543.9" font-size="6.2" font-weight="bold" text-anchor="start" fill="#111" >SEQUENCE</text>
<text x="282.7" y="551.4" font-size="6.2" font-weight="bold" text-anchor="start" fill="#111" >SEQUENCING</text>
<text x="282.7" y="558.9" font-size="6.2" font-weight="bold" text-anchor="start" fill="#111" >PRIMER</text>
<defs><filter id="bl4" x="-30%" y="-150%" width="160%" height="400%"><feGaussianBlur stdDeviation="0.55"/></filter><filter id="bl5" x="-30%" y="-150%" width="160%" height="400%"><feGaussianBlur stdDeviation="0.9"/></filter></defs>
<text x="404.2" y="8.8" font-size="8.6" font-weight="bold" text-anchor="middle" fill="#111" >2q13.2</text>
<path d="M313,17.2 C313,15 314.5,14.2 318,14.2 L399.5,14.2 C402,14.2 403,13 403.5,11.6 C404,13 405,14.2 407.5,14.2 L490,14.2 C493.5,14.2 495.4,15 495.4,17.0" stroke="#333" stroke-width="1" fill="none" />
<line x1="297.3" y1="41.9" x2="507.2" y2="41.9" stroke="#333" stroke-width="0.9" />
<text x="282" y="44.6" font-size="9" font-weight="normal" text-anchor="start" fill="#111" stroke="#111" stroke-width="0.45">cen</text>
<text x="509.2" y="44.6" font-size="9" font-weight="normal" text-anchor="start" fill="#111" stroke="#111" stroke-width="0.45">tel</text>
<rect x="313.2" y="35.6" width="35.2" height="9.1" fill="#fff" stroke="#222" stroke-width="0.9" />
<rect x="352.9" y="35.6" width="13.8" height="9.1" fill="#fff" stroke="#222" stroke-width="0.9" />
<rect x="461.2" y="35.6" width="31.6" height="9.1" fill="#fff" stroke="#222" stroke-width="0.9" />
<text x="330.8" y="54.9" font-size="4.7" font-weight="bold" text-anchor="middle" fill="#111" >ACOXL</text>
<text x="359.2" y="54.9" font-size="4.7" font-weight="bold" text-anchor="middle" fill="#111" >AK125994</text>
<text x="479.2" y="54.7" font-size="4.7" font-weight="bold" text-anchor="middle" fill="#111" >BX647931</text>
<rect x="376.9" y="35.8" width="4.8" height="9.8" fill="#000" stroke="none" stroke-width="1" />
<rect x="399.2" y="35.8" width="3.2" height="9.8" fill="#000" stroke="none" stroke-width="1" />
<rect x="406.6" y="35.8" width="3.8" height="9.8" fill="#000" stroke="none" stroke-width="1" />
<rect x="410.2" y="38.2" width="22.8" height="4.8" fill="#000" stroke="none" stroke-width="1" />
<rect x="400.1" y="45.6" width="2.2" height="19.2" fill="#fff" stroke="#999" stroke-width="0.6" />
<line x1="377.4" y1="46" x2="377.4" y2="75.8" stroke="#999" stroke-width="0.8" />
<line x1="433" y1="43" x2="433" y2="75.8" stroke="#999" stroke-width="0.8" />
<line x1="377" y1="75.8" x2="433.4" y2="75.8" stroke="#444" stroke-width="1" />
<text x="371.6" y="31.6" font-size="4.6" font-weight="normal" text-anchor="middle" fill="#111" stroke="#111" stroke-width="0.2">ATG</text>
<path d="M375.6,32.2 L378.6,32.2 L377.1,35.0 Z" stroke="none" stroke-width="0" fill="#111" />
<text x="416.2" y="31.6" font-size="4.6" font-weight="normal" text-anchor="middle" fill="#111" stroke="#111" stroke-width="0.2">TGA</text>
<path d="M408.2,32.2 L411.2,32.2 L409.7,35.0 Z" stroke="none" stroke-width="0" fill="#111" />
<text x="380.8" y="52.6" font-size="5.8" font-weight="normal" text-anchor="middle" fill="#111" stroke="#111" stroke-width="0.2">E1</text>
<text x="393.9" y="48" font-size="5.8" font-weight="normal" text-anchor="middle" fill="#111" stroke="#111" stroke-width="0.2">E2</text>
<text x="409.8" y="52.6" font-size="5.8" font-weight="normal" text-anchor="middle" fill="#111" stroke="#111" stroke-width="0.2">E3</text>
<text x="412.4" y="67.7" font-size="5.6" font-weight="normal" text-anchor="middle" fill="#111" stroke="#111" stroke-width="0.2">BL2</text>
<text x="405.8" y="84.3" font-size="8.2" font-weight="bold" text-anchor="middle" fill="#1a1a1a" >BIM gene</text>
<text x="440.4" y="79.8" font-size="7.8" font-weight="normal" text-anchor="start" fill="#111" stroke="#111" stroke-width="0.2">P32</text>
<line x1="301.4" y1="71" x2="301.4" y2="131.7" stroke="#111" stroke-width="1" />
<line x1="301.4" y1="131.2" x2="368.5" y2="131.2" stroke="#111" stroke-width="1" />
<line x1="299.8" y1="131.2" x2="301.4" y2="131.2" stroke="#111" stroke-width="0.7" />
<text transform="translate(300.1,131.2) rotate(-90)" font-size="3.6" font-weight="bold" text-anchor="middle" fill="#333" >0</text>
<line x1="299.8" y1="119.26" x2="301.4" y2="119.26" stroke="#111" stroke-width="0.7" />
<text transform="translate(300.1,119.26) rotate(-90)" font-size="3.6" font-weight="bold" text-anchor="middle" fill="#333" >1</text>
<line x1="299.8" y1="107.32" x2="301.4" y2="107.32" stroke="#111" stroke-width="0.7" />
<text transform="translate(300.1,107.32) rotate(-90)" font-size="3.6" font-weight="bold" text-anchor="middle" fill="#333" >2</text>
<line x1="299.8" y1="95.38" x2="301.4" y2="95.38" stroke="#111" stroke-width="0.7" />
<text transform="translate(300.1,95.38) rotate(-90)" font-size="3.6" font-weight="bold" text-anchor="middle" fill="#333" >3</text>
<line x1="299.8" y1="83.44" x2="301.4" y2="83.44" stroke="#111" stroke-width="0.7" />
<text transform="translate(300.1,83.44) rotate(-90)" font-size="3.6" font-weight="bold" text-anchor="middle" fill="#333" >4</text>
<line x1="299.8" y1="71.5" x2="301.4" y2="71.5" stroke="#111" stroke-width="0.7" />
<text transform="translate(300.1,71.5) rotate(-90)" font-size="3.6" font-weight="bold" text-anchor="middle" fill="#333" >5</text>
<text transform="translate(291.79,103.6) rotate(-90)" font-size="3.3" font-weight="bold" text-anchor="middle" fill="#333" >BIM RELATIVE RNA</text>
<text transform="translate(295.79,103.6) rotate(-90)" font-size="3.3" font-weight="bold" text-anchor="middle" fill="#333" >EXPRESSION</text>
<line x1="310.2" y1="131.2" x2="310.2" y2="132.7" stroke="#111" stroke-width="0.7" />
<text transform="translate(312.14,137.3) rotate(-90)" font-size="5.4" font-weight="bold" text-anchor="end" fill="#111" >P32</text>
<line x1="326.65" y1="131.2" x2="326.65" y2="132.7" stroke="#111" stroke-width="0.7" />
<text transform="translate(328.59,137.3) rotate(-90)" font-size="5.4" font-weight="bold" text-anchor="end" fill="#111" >BL2</text>
<rect x="337.5" y="119.26" width="11.4" height="11.94" fill="#000" stroke="none" stroke-width="1" />
<line x1="343.1" y1="119.26" x2="343.1" y2="117.83" stroke="#111" stroke-width="0.7" />
<line x1="340.9" y1="117.83" x2="345.3" y2="117.83" stroke="#111" stroke-width="0.7" />
<line x1="343.1" y1="131.2" x2="343.1" y2="132.7" stroke="#111" stroke-width="0.7" />
<text transform="translate(345.04,137.3) rotate(-90)" font-size="5.4" font-weight="bold" text-anchor="end" fill="#111" >BL41</text>
<rect x="353.95" y="75.68" width="11.4" height="55.52" fill="#000" stroke="none" stroke-width="1" />
<line x1="359.55" y1="75.68" x2="359.55" y2="72.1" stroke="#111" stroke-width="0.7" />
<line x1="357.35" y1="72.1" x2="361.75" y2="72.1" stroke="#111" stroke-width="0.7" />
<line x1="359.55" y1="131.2" x2="359.55" y2="132.7" stroke="#111" stroke-width="0.7" />
<text transform="translate(361.49,137.3) rotate(-90)" font-size="5.4" font-weight="bold" text-anchor="end" fill="#111" >BLUE1</text>
<text transform="translate(412.42,112.2) rotate(-90)" font-size="5.6" font-weight="bold" text-anchor="start" fill="#111" >P32</text>
<text transform="translate(427.82,112.2) rotate(-90)" font-size="5.6" font-weight="bold" text-anchor="start" fill="#111" >BL2</text>
<text transform="translate(446.02,112.2) rotate(-90)" font-size="5.6" font-weight="bold" text-anchor="start" fill="#111" >BL41</text>
<text transform="translate(463.32,112.2) rotate(-90)" font-size="5.6" font-weight="bold" text-anchor="start" fill="#111" >BLUE1</text>
<rect x="399" y="116" width="74" height="12" fill="#fafbfc" stroke="none" stroke-width="1" />
<rect x="436" y="120.6" width="15" height="3" rx="2.4" ry="1.5" fill="#2c2c2c" opacity="1.0" filter="url(#bl5)"/>
<rect x="452.5" y="121" width="16.3" height="4.6" rx="3.68" ry="2.3" fill="#222" opacity="1.0" filter="url(#bl5)"/>
<rect x="400.8" y="135.6" width="16.7" height="3.4" rx="2.72" ry="1.7" fill="#383838" opacity="1.0" filter="url(#bl5)"/>
<rect x="418" y="135.6" width="16.6" height="3.4" rx="2.72" ry="1.7" fill="#383838" opacity="1.0" filter="url(#bl5)"/>
<rect x="435.2" y="135.6" width="16.2" height="3.4" rx="2.72" ry="1.7" fill="#383838" opacity="1.0" filter="url(#bl5)"/>
<rect x="452.2" y="135.6" width="17" height="3.4" rx="2.72" ry="1.7" fill="#383838" opacity="1.0" filter="url(#bl5)"/>
<text x="472.7" y="125" font-size="5.7" font-weight="bold" text-anchor="start" fill="#111" >Bim EL</text>
<text x="473" y="139.4" font-size="5.8" font-weight="bold" text-anchor="start" fill="#111" >Actin</text>
<line x1="343.9" y1="175.3" x2="343.9" y2="263.1" stroke="#111" stroke-width="1" />
<line x1="343.9" y1="262.6" x2="427" y2="262.6" stroke="#111" stroke-width="1" />
<line x1="342.1" y1="262.6" x2="343.9" y2="262.6" stroke="#111" stroke-width="0.7" />
<text x="341.9" y="264.1" font-size="4.2" font-weight="bold" text-anchor="end" fill="#222" >0</text>
<line x1="342.1" y1="240.82" x2="343.9" y2="240.82" stroke="#111" stroke-width="0.7" />
<text x="341.9" y="242.32" font-size="4.2" font-weight="bold" text-anchor="end" fill="#222" >25</text>
<line x1="342.1" y1="219.04" x2="343.9" y2="219.04" stroke="#111" stroke-width="0.7" />
<text x="341.9" y="220.54" font-size="4.2" font-weight="bold" text-anchor="end" fill="#222" >50</text>
<line x1="342.1" y1="197.26" x2="343.9" y2="197.26" stroke="#111" stroke-width="0.7" />
<text x="341.9" y="198.76" font-size="4.2" font-weight="bold" text-anchor="end" fill="#222" >75</text>
<line x1="342.1" y1="175.48" x2="343.9" y2="175.48" stroke="#111" stroke-width="0.7" />
<text x="341.9" y="176.98" font-size="4.2" font-weight="bold" text-anchor="end" fill="#222" >100</text>
<text transform="translate(332.29,218.5) rotate(-90)" font-size="4.7" font-weight="bold" text-anchor="middle" fill="#222" >% BIM  ACETYLATION</text>
<rect x="346" y="175.48" width="9.8" height="87.12" fill="#000" stroke="#111" stroke-width="0.8" />
<rect x="360" y="191.16" width="9.8" height="71.44" fill="#a0a0a0" stroke="#111" stroke-width="0.8" />
<line x1="364.9" y1="191.16" x2="364.9" y2="188.11" stroke="#111" stroke-width="0.7" />
<line x1="362.7" y1="188.11" x2="367.1" y2="188.11" stroke="#111" stroke-width="0.7" />
<rect x="374" y="250.4" width="9.8" height="12.2" fill="#000" stroke="#111" stroke-width="0.8" />
<line x1="378.9" y1="250.4" x2="378.9" y2="248.66" stroke="#111" stroke-width="0.7" />
<line x1="376.7" y1="248.66" x2="381.1" y2="248.66" stroke="#111" stroke-width="0.7" />
<rect x="388.2" y="202.49" width="9.8" height="60.11" fill="#a0a0a0" stroke="#111" stroke-width="0.8" />
<line x1="393.1" y1="202.49" x2="393.1" y2="199" stroke="#111" stroke-width="0.7" />
<line x1="390.9" y1="199" x2="395.3" y2="199" stroke="#111" stroke-width="0.7" />
<rect x="402.2" y="250.4" width="9.8" height="12.2" fill="#000" stroke="#111" stroke-width="0.8" />
<line x1="407.1" y1="250.4" x2="407.1" y2="248.66" stroke="#111" stroke-width="0.7" />
<line x1="404.9" y1="248.66" x2="409.3" y2="248.66" stroke="#111" stroke-width="0.7" />
<rect x="416.6" y="198.13" width="9.8" height="64.47" fill="#a0a0a0" stroke="#111" stroke-width="0.8" />
<line x1="421.5" y1="198.13" x2="421.5" y2="195.95" stroke="#111" stroke-width="0.7" />
<line x1="419.3" y1="195.95" x2="423.7" y2="195.95" stroke="#111" stroke-width="0.7" />
<line x1="350.5" y1="266.5" x2="364.8" y2="266.5" stroke="#111" stroke-width="1.1" />
<line x1="350.3" y1="271.8" x2="352.5" y2="271.8" stroke="#111" stroke-width="1" />
<line x1="365.5" y1="274.1" x2="369.9" y2="274.1" stroke="#111" stroke-width="0.95" />
<line x1="367.7" y1="271.9" x2="367.7" y2="276.3" stroke="#111" stroke-width="0.95" />
<line x1="378.5" y1="266.5" x2="392.8" y2="266.5" stroke="#111" stroke-width="1.1" />
<line x1="378.3" y1="271.8" x2="380.5" y2="271.8" stroke="#111" stroke-width="1" />
<line x1="393.5" y1="274.1" x2="397.9" y2="274.1" stroke="#111" stroke-width="0.95" />
<line x1="395.7" y1="271.9" x2="395.7" y2="276.3" stroke="#111" stroke-width="0.95" />
<line x1="406.7" y1="266.5" x2="421.2" y2="266.5" stroke="#111" stroke-width="1.1" />
<line x1="406.5" y1="271.8" x2="408.7" y2="271.8" stroke="#111" stroke-width="1" />
<line x1="421.9" y1="274.1" x2="426.3" y2="274.1" stroke="#111" stroke-width="0.95" />
<line x1="424.1" y1="271.9" x2="424.1" y2="276.3" stroke="#111" stroke-width="0.95" />
<text x="429.6" y="273.6" font-size="6.4" font-weight="bold" text-anchor="start" fill="#111" >Vorinostat</text>
<text transform="translate(360.07,275.6) rotate(-90)" font-size="5.2" font-weight="bold" text-anchor="end" fill="#111" >BALM 9</text>
<text transform="translate(387.8,277.3) rotate(-90)" font-size="5" font-weight="bold" text-anchor="end" fill="#111" >JIJOYE</text>
<text transform="translate(417.11,276.3) rotate(-90)" font-size="5.3" font-weight="bold" text-anchor="end" fill="#111" >SERAPHINA</text>
<line x1="311" y1="305.8" x2="311" y2="411.1" stroke="#111" stroke-width="1" />
<line x1="311" y1="410.6" x2="423" y2="410.6" stroke="#111" stroke-width="1" />
<line x1="309.2" y1="410.6" x2="311" y2="410.6" stroke="#111" stroke-width="0.7" />
<text transform="translate(308.98,410.6) rotate(-90)" font-size="4.4" font-weight="bold" text-anchor="middle" fill="#222" >0</text>
<line x1="309.2" y1="375.55" x2="311" y2="375.55" stroke="#111" stroke-width="0.7" />
<text transform="translate(308.98,375.55) rotate(-90)" font-size="4.4" font-weight="bold" text-anchor="middle" fill="#222" >1</text>
<line x1="309.2" y1="340.5" x2="311" y2="340.5" stroke="#111" stroke-width="0.7" />
<text transform="translate(308.98,340.5) rotate(-90)" font-size="4.4" font-weight="bold" text-anchor="middle" fill="#222" >2</text>
<line x1="309.2" y1="305.45" x2="311" y2="305.45" stroke="#111" stroke-width="0.7" />
<text transform="translate(308.98,305.45) rotate(-90)" font-size="4.4" font-weight="bold" text-anchor="middle" fill="#222" >3</text>
<text transform="translate(294.67,358.1) rotate(-90)" font-size="6.3" font-weight="bold" text-anchor="middle" fill="#222" >BIM RELATIVE RNA</text>
<text transform="translate(301.87,358.3) rotate(-90)" font-size="6.3" font-weight="bold" text-anchor="middle" fill="#222" >EXPRESSION</text>
<rect x="313.6" y="406.04" width="9.4" height="4.56" fill="#e8e8e8" stroke="#111" stroke-width="0.9" />
<line x1="318.2" y1="406.04" x2="318.2" y2="404.64" stroke="#111" stroke-width="0.8" />
<line x1="315.8" y1="404.64" x2="320.6" y2="404.64" stroke="#111" stroke-width="0.8" />
<line x1="318.2" y1="410.6" x2="318.2" y2="412.4" stroke="#111" stroke-width="0.7" />
<text transform="translate(320.25,414.2) rotate(-90)" font-size="5.7" font-weight="bold" text-anchor="end" fill="#111" >SERAPHINA</text>
<rect x="327.55" y="408.15" width="9.4" height="2.45" fill="#e8e8e8" stroke="#111" stroke-width="0.9" />
<line x1="332.15" y1="408.15" x2="332.15" y2="407.45" stroke="#111" stroke-width="0.8" />
<line x1="329.75" y1="407.45" x2="334.55" y2="407.45" stroke="#111" stroke-width="0.8" />
<line x1="332.15" y1="410.6" x2="332.15" y2="412.4" stroke="#111" stroke-width="0.7" />
<text transform="translate(334.2,414.2) rotate(-90)" font-size="5.7" font-weight="bold" text-anchor="end" fill="#111" >JIJOYE</text>
<rect x="341.5" y="400.44" width="9.4" height="10.16" fill="#e8e8e8" stroke="#111" stroke-width="0.9" />
<line x1="346.1" y1="400.44" x2="346.1" y2="400.09" stroke="#111" stroke-width="0.8" />
<line x1="343.7" y1="400.09" x2="348.5" y2="400.09" stroke="#111" stroke-width="0.8" />
<line x1="346.1" y1="410.6" x2="346.1" y2="412.4" stroke="#111" stroke-width="0.7" />
<text transform="translate(348.15,414.2) rotate(-90)" font-size="5.7" font-weight="bold" text-anchor="end" fill="#111" >EB1</text>
<rect x="355.45" y="395.18" width="9.4" height="15.42" fill="#e8e8e8" stroke="#111" stroke-width="0.9" />
<line x1="360.05" y1="395.18" x2="360.05" y2="389.22" stroke="#111" stroke-width="0.8" />
<line x1="357.65" y1="389.22" x2="362.45" y2="389.22" stroke="#111" stroke-width="0.8" />
<line x1="360.05" y1="410.6" x2="360.05" y2="412.4" stroke="#111" stroke-width="0.7" />
<text transform="translate(362.1,414.2) rotate(-90)" font-size="5.7" font-weight="bold" text-anchor="end" fill="#111" >KHM10B</text>
<rect x="369.4" y="406.39" width="9.4" height="4.21" fill="#e8e8e8" stroke="#111" stroke-width="0.9" />
<line x1="374" y1="406.39" x2="374" y2="405.69" stroke="#111" stroke-width="0.8" />
<line x1="371.6" y1="405.69" x2="376.4" y2="405.69" stroke="#111" stroke-width="0.8" />
<line x1="374" y1="410.6" x2="374" y2="412.4" stroke="#111" stroke-width="0.7" />
<text transform="translate(376.05,414.2) rotate(-90)" font-size="5.7" font-weight="bold" text-anchor="end" fill="#111" >W133</text>
<rect x="383.35" y="375.55" width="9.4" height="35.05" fill="#000" stroke="#111" stroke-width="0.9" />
<line x1="387.95" y1="410.6" x2="387.95" y2="412.4" stroke="#111" stroke-width="0.7" />
<text transform="translate(390,414.2) rotate(-90)" font-size="5.7" font-weight="bold" text-anchor="end" fill="#111" >DG75</text>
<rect x="397.3" y="338.75" width="9.4" height="71.85" fill="#000" stroke="#111" stroke-width="0.9" />
<line x1="401.9" y1="338.75" x2="401.9" y2="337" stroke="#111" stroke-width="0.8" />
<line x1="399.5" y1="337" x2="404.3" y2="337" stroke="#111" stroke-width="0.8" />
<line x1="401.9" y1="410.6" x2="401.9" y2="412.4" stroke="#111" stroke-width="0.7" />
<text transform="translate(403.95,414.2) rotate(-90)" font-size="5.7" font-weight="bold" text-anchor="end" fill="#111" >BALM9</text>
<rect x="411.25" y="372.05" width="9.4" height="38.55" fill="#000" stroke="#111" stroke-width="0.9" />
<line x1="415.85" y1="372.05" x2="415.85" y2="369.59" stroke="#111" stroke-width="0.8" />
<line x1="413.45" y1="369.59" x2="418.25" y2="369.59" stroke="#111" stroke-width="0.8" />
<line x1="415.85" y1="410.6" x2="415.85" y2="412.4" stroke="#111" stroke-width="0.7" />
<text transform="translate(417.9,414.2) rotate(-90)" font-size="5.7" font-weight="bold" text-anchor="end" fill="#111" >TANQUE</text>
<rect x="431" y="339.2" width="11" height="3.8" fill="#fff" stroke="#111" stroke-width="1.1" />
<rect x="430.8" y="349.3" width="11.5" height="4.7" fill="#000" stroke="none" stroke-width="1" />
<text x="443.4" y="343.4" font-size="6.1" font-weight="normal" text-anchor="start" fill="#111" stroke="#111" stroke-width="0.15">Methylated</text>
<text x="443.4" y="353.8" font-size="6.1" font-weight="normal" text-anchor="start" fill="#111" stroke="#111" stroke-width="0.15">Unmethylated</text>
<text transform="translate(383.81,487.2) rotate(-90)" font-size="5.85" font-weight="bold" text-anchor="start" fill="#111" >SERAPHINA</text>
<text transform="translate(399.11,487.2) rotate(-90)" font-size="5.85" font-weight="bold" text-anchor="start" fill="#111" >JIJOYE</text>
<text transform="translate(411.71,487.2) rotate(-90)" font-size="5.85" font-weight="bold" text-anchor="start" fill="#111" >EB1</text>
<text transform="translate(426.51,487.2) rotate(-90)" font-size="5.85" font-weight="bold" text-anchor="start" fill="#111" >KHM10B</text>
<text transform="translate(441.11,487.2) rotate(-90)" font-size="5.85" font-weight="bold" text-anchor="start" fill="#111" >W133</text>
<text transform="translate(454.81,487.2) rotate(-90)" font-size="5.85" font-weight="bold" text-anchor="start" fill="#111" >DG75</text>
<text transform="translate(470.11,487.2) rotate(-90)" font-size="5.85" font-weight="bold" text-anchor="start" fill="#111" >BALM9</text>
<text transform="translate(484.61,487.2) rotate(-90)" font-size="5.85" font-weight="bold" text-anchor="start" fill="#111" >TANQUE</text>
<rect x="367" y="492" width="123" height="18" fill="#fafafa" stroke="none" stroke-width="1" />
<rect x="421" y="495.7" width="8.8" height="1.8" rx="1.44" ry="0.9" fill="#222" opacity="1.0" filter="url(#bl4)"/>
<rect x="434.6" y="495.65" width="9.6" height="1.9" rx="1.52" ry="0.95" fill="#222" opacity="1.0" filter="url(#bl4)"/>
<rect x="447.9" y="495.2" width="11.5" height="2.8" rx="2.24" ry="1.4" fill="#1a1a1a" opacity="1.0" filter="url(#bl4)"/>
<rect x="462" y="494.4" width="12.8" height="4.4" rx="3.52" ry="2.2" fill="#111" opacity="1.0" filter="url(#bl4)"/>
<rect x="476" y="494.7" width="11.7" height="3.8" rx="3.04" ry="1.9" fill="#111" opacity="1.0" filter="url(#bl4)"/>
<rect x="464.6" y="505" width="8.3" height="1.6" rx="1.28" ry="0.8" fill="#666" opacity="1.0" filter="url(#bl4)"/>
<rect x="478.7" y="504.6" width="6.7" height="2" rx="1.6" ry="1" fill="#333" opacity="1.0" filter="url(#bl4)"/>
<rect x="369.6" y="514.05" width="16.2" height="2.9" rx="2.32" ry="1.45" fill="#1a1a1a" opacity="1.0" filter="url(#bl4)"/>
<rect x="386.6" y="514.05" width="13.8" height="2.9" rx="2.32" ry="1.45" fill="#1a1a1a" opacity="1.0" filter="url(#bl4)"/>
<rect x="401" y="514.05" width="13.8" height="2.9" rx="2.32" ry="1.45" fill="#1a1a1a" opacity="1.0" filter="url(#bl4)"/>
<rect x="415.4" y="514.05" width="14.2" height="2.9" rx="2.32" ry="1.45" fill="#1a1a1a" opacity="1.0" filter="url(#bl4)"/>
<rect x="430.2" y="514.05" width="14.4" height="2.9" rx="2.32" ry="1.45" fill="#1a1a1a" opacity="1.0" filter="url(#bl4)"/>
<rect x="445.2" y="514.05" width="14.4" height="2.9" rx="2.32" ry="1.45" fill="#1a1a1a" opacity="1.0" filter="url(#bl4)"/>
<rect x="460.2" y="514.05" width="14.2" height="2.9" rx="2.32" ry="1.45" fill="#1a1a1a" opacity="1.0" filter="url(#bl4)"/>
<rect x="475" y="514.05" width="13.6" height="2.9" rx="2.32" ry="1.45" fill="#1a1a1a" opacity="1.0" filter="url(#bl4)"/>
<text x="495.4" y="496.9" font-size="6.4" font-weight="bold" text-anchor="start" fill="#111" >Bim EL</text>
<text x="495.4" y="506.6" font-size="6.4" font-weight="bold" text-anchor="start" fill="#111" >Bim L</text>
<text x="495.4" y="516.3" font-size="6.4" font-weight="bold" text-anchor="start" fill="#111" >Actin</text>
<text transform="translate(400.6,543.6) rotate(-90)" font-size="8.6" font-weight="bold" text-anchor="start" fill="#111" >P3</text>
<text transform="translate(423,543.6) rotate(-90)" font-size="8.6" font-weight="bold" text-anchor="start" fill="#111" >P4</text>
<text transform="translate(442.4,543.6) rotate(-90)" font-size="8.6" font-weight="bold" text-anchor="start" fill="#111" >P5</text>
<text transform="translate(462.1,543.6) rotate(-90)" font-size="8.6" font-weight="bold" text-anchor="start" fill="#111" >P1</text>
<text transform="translate(481.5,543.6) rotate(-90)" font-size="8.6" font-weight="bold" text-anchor="start" fill="#111" >P2</text>
<rect x="448" y="551.65" width="18.8" height="2.5" rx="2" ry="1.25" fill="#4a4a4a" opacity="1.0" filter="url(#bl4)"/>
<rect x="470.3" y="551.25" width="17.5" height="2.5" rx="2" ry="1.25" fill="#4a4a4a" opacity="1.0" filter="url(#bl4)"/>
<rect x="418.5" y="546.75" width="6" height="0.9" rx="0.72" ry="0.45" fill="#bbb" opacity="1.0" filter="url(#bl4)"/>
<rect x="388" y="560.4" width="18" height="2.4" rx="1.92" ry="1.2" fill="#5e5e5e" opacity="1.0" filter="url(#bl4)"/>
<rect x="407" y="561.4" width="19" height="2.4" rx="1.92" ry="1.2" fill="#5e5e5e" opacity="1.0" filter="url(#bl4)"/>
<rect x="427" y="562.2" width="19" height="2.4" rx="1.92" ry="1.2" fill="#5e5e5e" opacity="1.0" filter="url(#bl4)"/>
<rect x="447" y="561.6" width="20" height="2.4" rx="1.92" ry="1.2" fill="#5e5e5e" opacity="1.0" filter="url(#bl4)"/>
<rect x="468" y="561" width="20" height="2.4" rx="1.92" ry="1.2" fill="#5e5e5e" opacity="1.0" filter="url(#bl4)"/>
<text x="494.6" y="552.6" font-size="6.4" font-weight="bold" text-anchor="start" fill="#111" >Bim EL</text>
<text x="494.6" y="564.8" font-size="6.4" font-weight="bold" text-anchor="start" fill="#111" >Actin</text>
<line x1="46.5" y1="575.2" x2="46.5" y2="663.2" stroke="#111" stroke-width="1" />
<line x1="46.5" y1="662.7" x2="122.7" y2="662.7" stroke="#111" stroke-width="1" />
<line x1="44.9" y1="662.7" x2="46.5" y2="662.7" stroke="#111" stroke-width="0.7" />
<text x="44.9" y="664.3" font-size="4.6" font-weight="bold" text-anchor="end" fill="#222" >0.00</text>
<line x1="44.9" y1="640.8" x2="46.5" y2="640.8" stroke="#111" stroke-width="0.7" />
<text x="44.9" y="642.4" font-size="4.6" font-weight="bold" text-anchor="end" fill="#222" >0.25</text>
<line x1="44.9" y1="618.9" x2="46.5" y2="618.9" stroke="#111" stroke-width="0.7" />
<text x="44.9" y="620.5" font-size="4.6" font-weight="bold" text-anchor="end" fill="#222" >0.50</text>
<line x1="44.9" y1="597" x2="46.5" y2="597" stroke="#111" stroke-width="0.7" />
<text x="44.9" y="598.6" font-size="4.6" font-weight="bold" text-anchor="end" fill="#222" >0.75</text>
<line x1="44.9" y1="575.1" x2="46.5" y2="575.1" stroke="#111" stroke-width="0.7" />
<text x="44.9" y="576.7" font-size="4.6" font-weight="bold" text-anchor="end" fill="#222" >1.00</text>
<text transform="translate(25.49,619.5) rotate(-90)" font-size="5.25" font-weight="bold" text-anchor="middle" fill="#222" >BIM RELATIVE RNA</text>
<text transform="translate(32.49,619.3) rotate(-90)" font-size="5.25" font-weight="bold" text-anchor="middle" fill="#222" >EXPRESSION</text>
<rect x="50" y="648.68" width="13" height="14.02" fill="#000" stroke="#111" stroke-width="0.9" />
<line x1="54.5" y1="647.81" x2="58.5" y2="647.81" stroke="#111" stroke-width="0.7" />
<rect x="68.8" y="636.42" width="12.9" height="26.28" fill="#a8a8a8" stroke="#111" stroke-width="0.9" />
<line x1="73.25" y1="635.11" x2="77.25" y2="635.11" stroke="#111" stroke-width="0.7" />
<rect x="87.7" y="650.44" width="13.5" height="12.26" fill="#000" stroke="#111" stroke-width="0.9" />
<rect x="106.7" y="613.21" width="13.1" height="49.49" fill="#a8a8a8" stroke="#111" stroke-width="0.9" />
<line x1="111.25" y1="612.94" x2="115.25" y2="612.94" stroke="#111" stroke-width="0.7" />
<rect x="57.3" y="663.1" width="18.5" height="1.8" fill="#fff" stroke="#555" stroke-width="0.8" />
<rect x="94.3" y="663.1" width="18.4" height="1.8" fill="#fff" stroke="#555" stroke-width="0.8" />
<line x1="54.7" y1="667.8" x2="56.7" y2="667.8" stroke="#111" stroke-width="1" />
<line x1="72.4" y1="670" x2="76.8" y2="670" stroke="#111" stroke-width="0.95" />
<line x1="74.6" y1="667.8" x2="74.6" y2="672.2" stroke="#111" stroke-width="0.95" />
<line x1="92.3" y1="667.8" x2="94.3" y2="667.8" stroke="#111" stroke-width="1" />
<line x1="109.8" y1="670" x2="114.2" y2="670" stroke="#111" stroke-width="0.95" />
<line x1="112" y1="667.8" x2="112" y2="672.2" stroke="#111" stroke-width="0.95" />
<text x="125" y="671.4" font-size="6.8" font-weight="bold" text-anchor="start" fill="#111" >5-Aza</text>
<text transform="translate(68.26,674.6) rotate(-90)" font-size="6" font-weight="bold" text-anchor="end" fill="#111" >SERAPHINA</text>
<text transform="translate(106.86,674.6) rotate(-90)" font-size="6" font-weight="bold" text-anchor="end" fill="#111" >JIJOYE</text>
<text transform="translate(153.46,617.8) rotate(-90)" font-size="4.9" font-weight="bold" text-anchor="start" fill="#111" >SERAPHINA</text>
<text transform="translate(201.76,616) rotate(-90)" font-size="4.9" font-weight="bold" text-anchor="start" fill="#111" >JIJOYE</text>
<line x1="144.7" y1="623.5" x2="157.8" y2="623.5" stroke="#111" stroke-width="1.1" />
<line x1="193.8" y1="622.5" x2="206.8" y2="622.5" stroke="#111" stroke-width="1.1" />
<line x1="143.2" y1="629.6" x2="145.4" y2="629.6" stroke="#111" stroke-width="1" />
<line x1="160.6" y1="630.6" x2="165" y2="630.6" stroke="#111" stroke-width="0.95" />
<line x1="162.8" y1="628.4" x2="162.8" y2="632.8" stroke="#111" stroke-width="0.95" />
<line x1="191.4" y1="629.6" x2="193.6" y2="629.6" stroke="#111" stroke-width="1" />
<line x1="208.8" y1="630.6" x2="213.2" y2="630.6" stroke="#111" stroke-width="0.95" />
<line x1="211" y1="628.4" x2="211" y2="632.8" stroke="#111" stroke-width="0.95" />
<text x="223.8" y="632" font-size="7.4" font-weight="bold" text-anchor="start" fill="#111" >5-Aza</text>
<rect x="146.3" y="639.1" width="4.2" height="1" rx="0.8" ry="0.5" fill="#aaa" opacity="1.0" filter="url(#bl4)"/>
<rect x="155.5" y="638.95" width="13.7" height="1.7" rx="1.36" ry="0.85" fill="#333" opacity="1.0" filter="url(#bl4)"/>
<rect x="154.8" y="641.15" width="5.2" height="0.9" rx="0.72" ry="0.45" fill="#999" opacity="1.0" filter="url(#bl4)"/>
<rect x="202.5" y="637.5" width="15" height="2.6" rx="2.08" ry="1.3" fill="#1a1a1a" opacity="1.0" filter="url(#bl4)"/>
<rect x="130.4" y="648.2" width="15.6" height="2.4" rx="1.92" ry="1.2" fill="#262626" opacity="1.0" filter="url(#bl4)"/>
<rect x="146.5" y="648.8" width="24.5" height="2" rx="1.6" ry="1" fill="#333" opacity="1.0" filter="url(#bl4)"/>
<rect x="181" y="648.5" width="17.8" height="2.2" rx="1.76" ry="1.1" fill="#333" opacity="1.0" filter="url(#bl4)"/>
<rect x="199.4" y="648.4" width="19.1" height="2.2" rx="1.76" ry="1.1" fill="#2e2e2e" opacity="1.0" filter="url(#bl4)"/>
<text x="225" y="642.2" font-size="6" font-weight="bold" text-anchor="start" fill="#111" >Bim EL</text>
<text x="225" y="652.2" font-size="6" font-weight="bold" text-anchor="start" fill="#111" >Actin</text>
<line x1="284.3" y1="581" x2="284.3" y2="667.5" stroke="#111" stroke-width="1" />
<line x1="284.3" y1="667" x2="356.6" y2="667" stroke="#111" stroke-width="1" />
<line x1="282.7" y1="667" x2="284.3" y2="667" stroke="#111" stroke-width="0.7" />
<text x="282.7" y="668.6" font-size="4.6" font-weight="bold" text-anchor="end" fill="#222" >0.00</text>
<line x1="282.7" y1="645.5" x2="284.3" y2="645.5" stroke="#111" stroke-width="0.7" />
<text x="282.7" y="647.1" font-size="4.6" font-weight="bold" text-anchor="end" fill="#222" >0.25</text>
<line x1="282.7" y1="624" x2="284.3" y2="624" stroke="#111" stroke-width="0.7" />
<text x="282.7" y="625.6" font-size="4.6" font-weight="bold" text-anchor="end" fill="#222" >0.50</text>
<line x1="282.7" y1="602.5" x2="284.3" y2="602.5" stroke="#111" stroke-width="0.7" />
<text x="282.7" y="604.1" font-size="4.6" font-weight="bold" text-anchor="end" fill="#222" >0.75</text>
<line x1="282.7" y1="581" x2="284.3" y2="581" stroke="#111" stroke-width="0.7" />
<text x="282.7" y="582.6" font-size="4.6" font-weight="bold" text-anchor="end" fill="#222" >1.00</text>
<text transform="translate(263.4,624.2) rotate(-90)" font-size="5" font-weight="bold" text-anchor="middle" fill="#222" >BIM RELATIVE RNA</text>
<text transform="translate(270,624) rotate(-90)" font-size="5" font-weight="bold" text-anchor="middle" fill="#222" >EXPRESSION</text>
<rect x="287.3" y="652.38" width="12.7" height="14.62" fill="#000" stroke="#111" stroke-width="0.9" />
<line x1="293.65" y1="652.38" x2="293.65" y2="651.95" stroke="#111" stroke-width="0.7" />
<line x1="291.45" y1="651.95" x2="295.85" y2="651.95" stroke="#111" stroke-width="0.7" />
<rect x="305.8" y="610.24" width="12.7" height="56.76" fill="#a0a0a0" stroke="#111" stroke-width="0.9" />
<line x1="312.15" y1="610.24" x2="312.15" y2="606.37" stroke="#111" stroke-width="0.7" />
<line x1="309.95" y1="606.37" x2="314.35" y2="606.37" stroke="#111" stroke-width="0.7" />
<rect x="324.3" y="654.1" width="13.1" height="12.9" fill="#000" stroke="#111" stroke-width="0.9" />
<line x1="330.85" y1="654.1" x2="330.85" y2="653.84" stroke="#111" stroke-width="0.7" />
<line x1="328.65" y1="653.84" x2="333.05" y2="653.84" stroke="#111" stroke-width="0.7" />
<rect x="343.4" y="611.96" width="12.5" height="55.04" fill="#a0a0a0" stroke="#111" stroke-width="0.9" />
<line x1="349.65" y1="611.96" x2="349.65" y2="608.52" stroke="#111" stroke-width="0.7" />
<line x1="347.45" y1="608.52" x2="351.85" y2="608.52" stroke="#111" stroke-width="0.7" />
<rect x="293" y="667.4" width="19.3" height="2.2" fill="#fff" stroke="#444" stroke-width="0.8" />
<rect x="331.2" y="667.4" width="18.5" height="2.2" fill="#fff" stroke="#444" stroke-width="0.8" />
<line x1="292.8" y1="672" x2="294.8" y2="672" stroke="#111" stroke-width="1" />
<line x1="310.5" y1="673.9" x2="314.9" y2="673.9" stroke="#111" stroke-width="0.95" />
<line x1="312.7" y1="671.7" x2="312.7" y2="676.1" stroke="#111" stroke-width="0.95" />
<line x1="330.2" y1="672" x2="332.2" y2="672" stroke="#111" stroke-width="1" />
<line x1="348.2" y1="673.9" x2="352.6" y2="673.9" stroke="#111" stroke-width="0.95" />
<line x1="350.4" y1="671.7" x2="350.4" y2="676.1" stroke="#111" stroke-width="0.95" />
<text x="358.8" y="674.8" font-size="7.1" font-weight="bold" text-anchor="start" fill="#111" >Vorinostat</text>
<text transform="translate(305,678.5) rotate(-90)" font-size="6.1" font-weight="bold" text-anchor="end" fill="#111" >SERAPHINA</text>
<text transform="translate(342.6,678.5) rotate(-90)" font-size="6.1" font-weight="bold" text-anchor="end" fill="#111" >JIJOYE</text>
<text transform="translate(402.19,617.3) rotate(-90)" font-size="4.7" font-weight="bold" text-anchor="start" fill="#111" >SERAPHINA</text>
<text transform="translate(437.29,616.4) rotate(-90)" font-size="4.7" font-weight="bold" text-anchor="start" fill="#111" >JIJOYE</text>
<line x1="393.4" y1="621.5" x2="407.7" y2="621.5" stroke="#111" stroke-width="1.1" />
<line x1="428.5" y1="621.5" x2="442.4" y2="621.5" stroke="#111" stroke-width="1.1" />
<line x1="394.6" y1="628.2" x2="396.8" y2="628.2" stroke="#111" stroke-width="1" />
<line x1="408.4" y1="628.9" x2="412.6" y2="628.9" stroke="#111" stroke-width="0.95" />
<line x1="410.5" y1="626.8" x2="410.5" y2="631" stroke="#111" stroke-width="0.95" />
<line x1="430.2" y1="628.2" x2="432.4" y2="628.2" stroke="#111" stroke-width="1" />
<line x1="442.1" y1="628.9" x2="446.3" y2="628.9" stroke="#111" stroke-width="0.95" />
<line x1="444.2" y1="626.8" x2="444.2" y2="631" stroke="#111" stroke-width="0.95" />
<text x="453.3" y="628" font-size="5.7" font-weight="bold" text-anchor="start" fill="#111" >Vorinostat</text>
<text x="458.9" y="638.3" font-size="5.4" font-weight="bold" text-anchor="start" fill="#111" >Bim EL</text>
<text x="458.6" y="648.1" font-size="5.3" font-weight="bold" text-anchor="start" fill="#111" >Actin</text>
<rect x="400.8" y="635.45" width="14" height="2.9" rx="2.32" ry="1.45" fill="#666" opacity="1.0" filter="url(#bl4)"/>
<rect x="434.8" y="634.3" width="14.2" height="3" rx="2.4" ry="1.5" fill="#555" opacity="1.0" filter="url(#bl4)"/>
<rect x="432.5" y="637" width="1.8" height="1" rx="0.8" ry="0.5" fill="#bbb" opacity="1.0" filter="url(#bl4)"/>
<rect x="381.2" y="644.6" width="17.2" height="2.6" rx="2.08" ry="1.3" fill="#2c3430" opacity="1.0" filter="url(#bl4)"/>
<rect x="399" y="644.6" width="16.6" height="2.6" rx="2.08" ry="1.3" fill="#2c3430" opacity="1.0" filter="url(#bl4)"/>
<rect x="416.2" y="644.6" width="17.2" height="2.6" rx="2.08" ry="1.3" fill="#2c3430" opacity="1.0" filter="url(#bl4)"/>
<rect x="434" y="644.6" width="17.6" height="2.6" rx="2.08" ry="1.3" fill="#2c3430" opacity="1.0" filter="url(#bl4)"/>
</svg></body></html>
